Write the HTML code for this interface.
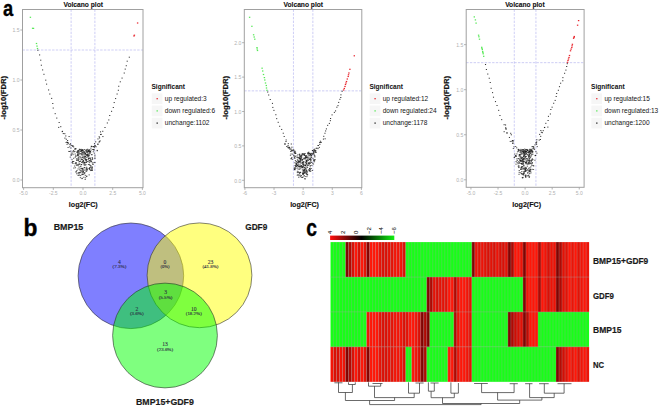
<!DOCTYPE html>
<html><head><meta charset="utf-8"><style>
html,body{margin:0;padding:0;background:#fff;}
svg{display:block;}
</style></head><body>
<svg width="660" height="407" viewBox="0 0 660 407">
<rect width="660" height="407" fill="#fff"/>
<text x="83.20" y="7.40" font-family="Liberation Sans" font-size="7.3" font-weight="bold" text-anchor="middle" fill="#111" textLength="39.5" lengthAdjust="spacingAndGlyphs" stroke="#111" stroke-width="0.12">Volcano plot</text>
<g stroke="#9c9cea" stroke-width="0.5" stroke-dasharray="2.4,1.3"><line x1="71.12" y1="9.5" x2="71.12" y2="187.7"/><line x1="94.88" y1="9.5" x2="94.88" y2="187.7"/><line x1="22.5" y1="50.00" x2="143.0" y2="50.00"/></g>
<rect x="22.5" y="9.5" width="120.50" height="178.20" fill="none" stroke="#a0a0a0" stroke-width="1"/>
<line x1="20.3" y1="180.00" x2="22.5" y2="180.00" stroke="#a0a0a0" stroke-width="0.8"/>
<text x="19.60" y="182.30" font-family="Liberation Sans" font-size="5.1" text-anchor="end" fill="#b0b0b0">0.0</text>
<line x1="20.3" y1="130.00" x2="22.5" y2="130.00" stroke="#a0a0a0" stroke-width="0.8"/>
<text x="19.60" y="132.30" font-family="Liberation Sans" font-size="5.1" text-anchor="end" fill="#b0b0b0">0.5</text>
<line x1="20.3" y1="80.00" x2="22.5" y2="80.00" stroke="#a0a0a0" stroke-width="0.8"/>
<text x="19.60" y="82.30" font-family="Liberation Sans" font-size="5.1" text-anchor="end" fill="#b0b0b0">1.0</text>
<line x1="20.3" y1="30.00" x2="22.5" y2="30.00" stroke="#a0a0a0" stroke-width="0.8"/>
<text x="19.60" y="32.30" font-family="Liberation Sans" font-size="5.1" text-anchor="end" fill="#b0b0b0">1.5</text>
<line x1="23.60" y1="187.7" x2="23.60" y2="189.89999999999998" stroke="#a0a0a0" stroke-width="0.8"/>
<text x="23.60" y="195.00" font-family="Liberation Sans" font-size="5" text-anchor="middle" fill="#b0b0b0">-5.0</text>
<line x1="53.30" y1="187.7" x2="53.30" y2="189.89999999999998" stroke="#a0a0a0" stroke-width="0.8"/>
<text x="53.30" y="195.00" font-family="Liberation Sans" font-size="5" text-anchor="middle" fill="#b0b0b0">-2.5</text>
<line x1="83.00" y1="187.7" x2="83.00" y2="189.89999999999998" stroke="#a0a0a0" stroke-width="0.8"/>
<text x="83.00" y="195.00" font-family="Liberation Sans" font-size="5" text-anchor="middle" fill="#b0b0b0">0.0</text>
<line x1="112.70" y1="187.7" x2="112.70" y2="189.89999999999998" stroke="#a0a0a0" stroke-width="0.8"/>
<text x="112.70" y="195.00" font-family="Liberation Sans" font-size="5" text-anchor="middle" fill="#b0b0b0">2.5</text>
<line x1="142.40" y1="187.7" x2="142.40" y2="189.89999999999998" stroke="#a0a0a0" stroke-width="0.8"/>
<text x="142.40" y="195.00" font-family="Liberation Sans" font-size="5" text-anchor="middle" fill="#b0b0b0">5.0</text>
<text x="83.25" y="207.20" font-family="Liberation Sans" font-size="7.4" font-weight="bold" text-anchor="middle" fill="#111" textLength="28.8" lengthAdjust="spacingAndGlyphs" stroke="#111" stroke-width="0.15">log2(FC)</text>
<text x="0" y="0" font-family="Liberation Sans" font-size="7.9" font-weight="bold" text-anchor="middle" fill="#111" stroke="#111" stroke-width="0.22" textLength="43.5" lengthAdjust="spacingAndGlyphs" transform="translate(6.30,97.7) rotate(-90)">-log10(FDR)</text>
<g fill="#1a1a1a">
<rect x="37.30" y="49.76" width="1.1" height="0.9"/>
<rect x="39.06" y="54.48" width="1.1" height="0.9"/>
<rect x="40.19" y="59.71" width="1.1" height="0.9"/>
<rect x="40.81" y="64.74" width="1.1" height="0.9"/>
<rect x="42.07" y="69.47" width="1.1" height="0.9"/>
<rect x="43.40" y="73.82" width="1.1" height="0.9"/>
<rect x="45.19" y="79.68" width="1.1" height="0.9"/>
<rect x="46.05" y="83.66" width="1.1" height="0.9"/>
<rect x="48.04" y="89.50" width="1.1" height="0.9"/>
<rect x="49.26" y="93.56" width="1.1" height="0.9"/>
<rect x="51.11" y="97.90" width="1.1" height="0.9"/>
<rect x="52.23" y="103.07" width="1.1" height="0.9"/>
<rect x="52.68" y="107.60" width="1.1" height="0.9"/>
<rect x="54.65" y="113.26" width="1.1" height="0.9"/>
<rect x="56.22" y="117.62" width="1.1" height="0.9"/>
<rect x="58.60" y="122.01" width="1.1" height="0.9"/>
<rect x="60.21" y="126.26" width="1.1" height="0.9"/>
<rect x="61.93" y="130.84" width="1.1" height="0.9"/>
<rect x="65.24" y="135.51" width="1.1" height="0.9"/>
<rect x="67.08" y="140.14" width="1.1" height="0.9"/>
<rect x="69.38" y="144.27" width="1.1" height="0.9"/>
<rect x="128.76" y="56.73" width="1.1" height="0.9"/>
<rect x="126.66" y="60.72" width="1.1" height="0.9"/>
<rect x="125.72" y="65.31" width="1.1" height="0.9"/>
<rect x="124.68" y="68.65" width="1.1" height="0.9"/>
<rect x="123.69" y="72.58" width="1.1" height="0.9"/>
<rect x="121.52" y="77.62" width="1.1" height="0.9"/>
<rect x="119.74" y="81.38" width="1.1" height="0.9"/>
<rect x="118.18" y="85.78" width="1.1" height="0.9"/>
<rect x="117.80" y="89.79" width="1.1" height="0.9"/>
<rect x="116.55" y="93.57" width="1.1" height="0.9"/>
<rect x="115.06" y="98.15" width="1.1" height="0.9"/>
<rect x="113.65" y="102.15" width="1.1" height="0.9"/>
<rect x="112.77" y="107.03" width="1.1" height="0.9"/>
<rect x="111.02" y="110.83" width="1.1" height="0.9"/>
<rect x="109.18" y="115.07" width="1.1" height="0.9"/>
<rect x="108.27" y="119.49" width="1.1" height="0.9"/>
<rect x="106.79" y="122.52" width="1.1" height="0.9"/>
<rect x="104.45" y="127.07" width="1.1" height="0.9"/>
<rect x="102.21" y="130.80" width="1.1" height="0.9"/>
<rect x="100.10" y="134.00" width="1.1" height="0.9"/>
<rect x="97.44" y="138.50" width="1.1" height="0.9"/>
<rect x="95.13" y="141.41" width="1.1" height="0.9"/>
<rect x="93.30" y="146.07" width="1.1" height="0.9"/>
<rect x="58.15" y="126.90" width="1.1" height="0.9"/>
<rect x="61.70" y="131.21" width="1.1" height="0.9"/>
<rect x="64.25" y="133.27" width="1.1" height="0.9"/>
<rect x="62.75" y="133.17" width="1.1" height="0.9"/>
<rect x="64.36" y="137.66" width="1.1" height="0.9"/>
<rect x="68.56" y="136.14" width="1.1" height="0.9"/>
<rect x="65.75" y="138.75" width="1.1" height="0.9"/>
<rect x="67.08" y="142.24" width="1.1" height="0.9"/>
<rect x="69.90" y="143.36" width="1.1" height="0.9"/>
<rect x="99.97" y="131.44" width="1.1" height="0.9"/>
<rect x="100.62" y="133.86" width="1.1" height="0.9"/>
<rect x="102.36" y="136.16" width="1.1" height="0.9"/>
<rect x="99.00" y="137.48" width="1.1" height="0.9"/>
<rect x="98.62" y="136.34" width="1.1" height="0.9"/>
<rect x="98.56" y="141.65" width="1.1" height="0.9"/>
<rect x="97.38" y="143.49" width="1.1" height="0.9"/>
<rect x="93.94" y="143.27" width="1.1" height="0.9"/>
<rect x="91.47" y="146.22" width="1.1" height="0.9"/>
</g><g fill="#1a1a1a" fill-opacity="0.85">
<rect x="84.82" y="153.14" width="1.3" height="0.8"/>
<rect x="85.76" y="150.74" width="1.3" height="0.8"/>
<rect x="86.44" y="150.84" width="1.3" height="0.8"/>
<rect x="81.29" y="173.83" width="1.3" height="0.8"/>
<rect x="79.29" y="153.67" width="1.3" height="0.8"/>
<rect x="78.44" y="151.84" width="1.3" height="0.8"/>
<rect x="95.49" y="146.40" width="1.3" height="0.8"/>
<rect x="79.34" y="150.93" width="1.3" height="0.8"/>
<rect x="79.27" y="171.88" width="1.3" height="0.8"/>
<rect x="83.17" y="176.78" width="1.3" height="0.8"/>
<rect x="78.39" y="161.54" width="1.3" height="0.8"/>
<rect x="90.99" y="169.83" width="1.3" height="0.8"/>
<rect x="89.56" y="151.20" width="1.3" height="0.8"/>
<rect x="79.46" y="169.81" width="1.3" height="0.8"/>
<rect x="70.18" y="147.66" width="1.3" height="0.8"/>
<rect x="84.55" y="178.97" width="1.3" height="0.8"/>
<rect x="90.13" y="165.08" width="1.3" height="0.8"/>
<rect x="82.02" y="160.94" width="1.3" height="0.8"/>
<rect x="81.28" y="149.98" width="1.3" height="0.8"/>
<rect x="81.33" y="167.80" width="1.3" height="0.8"/>
<rect x="89.85" y="170.23" width="1.3" height="0.8"/>
<rect x="88.75" y="151.86" width="1.3" height="0.8"/>
<rect x="83.04" y="153.52" width="1.3" height="0.8"/>
<rect x="71.43" y="159.38" width="1.3" height="0.8"/>
<rect x="72.03" y="161.09" width="1.3" height="0.8"/>
<rect x="91.40" y="167.29" width="1.3" height="0.8"/>
<rect x="84.75" y="158.79" width="1.3" height="0.8"/>
<rect x="87.83" y="156.57" width="1.3" height="0.8"/>
<rect x="88.34" y="154.37" width="1.3" height="0.8"/>
<rect x="68.25" y="150.94" width="1.3" height="0.8"/>
<rect x="84.15" y="152.20" width="1.3" height="0.8"/>
<rect x="93.06" y="146.03" width="1.3" height="0.8"/>
<rect x="91.62" y="157.23" width="1.3" height="0.8"/>
<rect x="77.03" y="152.01" width="1.3" height="0.8"/>
<rect x="93.75" y="152.76" width="1.3" height="0.8"/>
<rect x="89.32" y="168.82" width="1.3" height="0.8"/>
<rect x="84.62" y="153.54" width="1.3" height="0.8"/>
<rect x="80.94" y="164.18" width="1.3" height="0.8"/>
<rect x="81.91" y="152.30" width="1.3" height="0.8"/>
<rect x="87.99" y="157.95" width="1.3" height="0.8"/>
<rect x="68.94" y="146.48" width="1.3" height="0.8"/>
<rect x="89.69" y="158.09" width="1.3" height="0.8"/>
<rect x="80.98" y="159.09" width="1.3" height="0.8"/>
<rect x="82.61" y="171.09" width="1.3" height="0.8"/>
<rect x="86.15" y="168.25" width="1.3" height="0.8"/>
<rect x="76.39" y="159.44" width="1.3" height="0.8"/>
<rect x="70.58" y="144.92" width="1.3" height="0.8"/>
<rect x="77.33" y="154.05" width="1.3" height="0.8"/>
<rect x="83.54" y="161.90" width="1.3" height="0.8"/>
<rect x="83.34" y="157.47" width="1.3" height="0.8"/>
<rect x="75.90" y="158.39" width="1.3" height="0.8"/>
<rect x="79.59" y="160.86" width="1.3" height="0.8"/>
<rect x="65.48" y="142.05" width="1.3" height="0.8"/>
<rect x="94.54" y="145.56" width="1.3" height="0.8"/>
<rect x="66.41" y="143.87" width="1.3" height="0.8"/>
<rect x="84.72" y="159.36" width="1.3" height="0.8"/>
<rect x="87.11" y="150.64" width="1.3" height="0.8"/>
<rect x="76.28" y="170.03" width="1.3" height="0.8"/>
<rect x="88.76" y="164.35" width="1.3" height="0.8"/>
<rect x="91.57" y="169.36" width="1.3" height="0.8"/>
<rect x="85.70" y="159.58" width="1.3" height="0.8"/>
<rect x="67.74" y="143.34" width="1.3" height="0.8"/>
<rect x="74.53" y="153.64" width="1.3" height="0.8"/>
<rect x="84.44" y="168.66" width="1.3" height="0.8"/>
<rect x="91.37" y="154.34" width="1.3" height="0.8"/>
<rect x="88.73" y="162.34" width="1.3" height="0.8"/>
<rect x="79.75" y="177.32" width="1.3" height="0.8"/>
<rect x="86.91" y="148.80" width="1.3" height="0.8"/>
<rect x="82.15" y="170.52" width="1.3" height="0.8"/>
<rect x="81.87" y="159.07" width="1.3" height="0.8"/>
<rect x="93.57" y="147.21" width="1.3" height="0.8"/>
<rect x="91.83" y="158.13" width="1.3" height="0.8"/>
<rect x="81.40" y="149.88" width="1.3" height="0.8"/>
<rect x="79.50" y="149.63" width="1.3" height="0.8"/>
<rect x="91.74" y="162.47" width="1.3" height="0.8"/>
<rect x="94.53" y="145.45" width="1.3" height="0.8"/>
<rect x="87.47" y="155.05" width="1.3" height="0.8"/>
<rect x="66.91" y="142.15" width="1.3" height="0.8"/>
<rect x="88.37" y="153.41" width="1.3" height="0.8"/>
<rect x="85.63" y="150.40" width="1.3" height="0.8"/>
<rect x="84.20" y="156.03" width="1.3" height="0.8"/>
<rect x="82.70" y="160.31" width="1.3" height="0.8"/>
<rect x="85.24" y="150.39" width="1.3" height="0.8"/>
<rect x="82.35" y="168.81" width="1.3" height="0.8"/>
<rect x="77.95" y="159.33" width="1.3" height="0.8"/>
<rect x="85.46" y="170.84" width="1.3" height="0.8"/>
<rect x="74.74" y="167.40" width="1.3" height="0.8"/>
<rect x="75.70" y="164.43" width="1.3" height="0.8"/>
<rect x="88.86" y="168.46" width="1.3" height="0.8"/>
<rect x="79.62" y="156.83" width="1.3" height="0.8"/>
<rect x="80.97" y="151.65" width="1.3" height="0.8"/>
<rect x="92.96" y="149.19" width="1.3" height="0.8"/>
<rect x="83.91" y="172.66" width="1.3" height="0.8"/>
<rect x="89.67" y="151.61" width="1.3" height="0.8"/>
<rect x="82.64" y="160.41" width="1.3" height="0.8"/>
<rect x="86.61" y="154.81" width="1.3" height="0.8"/>
<rect x="91.95" y="148.98" width="1.3" height="0.8"/>
<rect x="88.36" y="155.26" width="1.3" height="0.8"/>
<rect x="89.36" y="157.41" width="1.3" height="0.8"/>
<rect x="77.56" y="160.19" width="1.3" height="0.8"/>
<rect x="87.95" y="150.32" width="1.3" height="0.8"/>
<rect x="80.67" y="149.91" width="1.3" height="0.8"/>
<rect x="80.61" y="164.08" width="1.3" height="0.8"/>
<rect x="70.64" y="154.38" width="1.3" height="0.8"/>
<rect x="79.23" y="155.84" width="1.3" height="0.8"/>
<rect x="72.83" y="150.03" width="1.3" height="0.8"/>
<rect x="80.69" y="148.89" width="1.3" height="0.8"/>
<rect x="90.05" y="159.28" width="1.3" height="0.8"/>
<rect x="81.03" y="150.16" width="1.3" height="0.8"/>
<rect x="73.97" y="165.61" width="1.3" height="0.8"/>
<rect x="86.86" y="161.22" width="1.3" height="0.8"/>
<rect x="90.82" y="160.72" width="1.3" height="0.8"/>
<rect x="82.58" y="151.70" width="1.3" height="0.8"/>
<rect x="80.19" y="172.28" width="1.3" height="0.8"/>
<rect x="72.97" y="157.83" width="1.3" height="0.8"/>
<rect x="78.85" y="148.77" width="1.3" height="0.8"/>
<rect x="85.86" y="159.30" width="1.3" height="0.8"/>
<rect x="72.11" y="146.00" width="1.3" height="0.8"/>
<rect x="81.90" y="149.86" width="1.3" height="0.8"/>
<rect x="81.22" y="154.29" width="1.3" height="0.8"/>
<rect x="81.10" y="158.55" width="1.3" height="0.8"/>
<rect x="76.31" y="165.04" width="1.3" height="0.8"/>
<rect x="83.40" y="164.40" width="1.3" height="0.8"/>
<rect x="85.92" y="154.17" width="1.3" height="0.8"/>
<rect x="82.09" y="162.42" width="1.3" height="0.8"/>
<rect x="84.87" y="154.43" width="1.3" height="0.8"/>
<rect x="77.18" y="164.00" width="1.3" height="0.8"/>
<rect x="80.16" y="160.66" width="1.3" height="0.8"/>
<rect x="78.84" y="173.53" width="1.3" height="0.8"/>
<rect x="88.55" y="174.51" width="1.3" height="0.8"/>
<rect x="90.23" y="166.23" width="1.3" height="0.8"/>
<rect x="90.01" y="151.70" width="1.3" height="0.8"/>
<rect x="86.66" y="154.78" width="1.3" height="0.8"/>
<rect x="78.90" y="161.00" width="1.3" height="0.8"/>
<rect x="86.00" y="170.63" width="1.3" height="0.8"/>
<rect x="67.45" y="147.08" width="1.3" height="0.8"/>
<rect x="84.13" y="162.13" width="1.3" height="0.8"/>
<rect x="82.95" y="160.72" width="1.3" height="0.8"/>
<rect x="76.58" y="151.21" width="1.3" height="0.8"/>
<rect x="78.88" y="172.14" width="1.3" height="0.8"/>
<rect x="94.27" y="158.00" width="1.3" height="0.8"/>
<rect x="94.25" y="156.60" width="1.3" height="0.8"/>
<rect x="87.17" y="156.23" width="1.3" height="0.8"/>
<rect x="72.01" y="152.68" width="1.3" height="0.8"/>
<rect x="77.19" y="150.32" width="1.3" height="0.8"/>
<rect x="93.24" y="149.73" width="1.3" height="0.8"/>
<rect x="87.33" y="153.79" width="1.3" height="0.8"/>
<rect x="77.72" y="156.66" width="1.3" height="0.8"/>
<rect x="96.64" y="149.90" width="1.3" height="0.8"/>
<rect x="71.59" y="162.24" width="1.3" height="0.8"/>
<rect x="71.49" y="145.20" width="1.3" height="0.8"/>
<rect x="81.48" y="168.44" width="1.3" height="0.8"/>
<rect x="78.74" y="149.55" width="1.3" height="0.8"/>
<rect x="85.69" y="159.53" width="1.3" height="0.8"/>
<rect x="79.01" y="168.69" width="1.3" height="0.8"/>
<rect x="87.84" y="164.08" width="1.3" height="0.8"/>
<rect x="79.48" y="158.59" width="1.3" height="0.8"/>
<rect x="84.46" y="153.44" width="1.3" height="0.8"/>
<rect x="89.31" y="150.99" width="1.3" height="0.8"/>
<rect x="90.25" y="147.73" width="1.3" height="0.8"/>
<rect x="83.45" y="156.71" width="1.3" height="0.8"/>
<rect x="86.79" y="154.26" width="1.3" height="0.8"/>
<rect x="68.82" y="151.09" width="1.3" height="0.8"/>
<rect x="76.04" y="159.92" width="1.3" height="0.8"/>
<rect x="77.70" y="150.74" width="1.3" height="0.8"/>
<rect x="79.13" y="153.37" width="1.3" height="0.8"/>
<rect x="72.27" y="163.12" width="1.3" height="0.8"/>
<rect x="83.56" y="154.62" width="1.3" height="0.8"/>
<rect x="76.07" y="173.41" width="1.3" height="0.8"/>
<rect x="90.79" y="145.92" width="1.3" height="0.8"/>
<rect x="93.36" y="161.98" width="1.3" height="0.8"/>
<rect x="72.97" y="146.56" width="1.3" height="0.8"/>
<rect x="69.65" y="156.67" width="1.3" height="0.8"/>
<rect x="94.13" y="145.53" width="1.3" height="0.8"/>
<rect x="85.56" y="161.53" width="1.3" height="0.8"/>
<rect x="75.30" y="162.62" width="1.3" height="0.8"/>
<rect x="75.04" y="155.54" width="1.3" height="0.8"/>
<rect x="80.42" y="170.08" width="1.3" height="0.8"/>
<rect x="84.11" y="167.27" width="1.3" height="0.8"/>
<rect x="81.11" y="154.48" width="1.3" height="0.8"/>
<rect x="75.09" y="148.38" width="1.3" height="0.8"/>
<rect x="90.23" y="159.69" width="1.3" height="0.8"/>
<rect x="78.47" y="163.79" width="1.3" height="0.8"/>
<rect x="88.39" y="158.08" width="1.3" height="0.8"/>
<rect x="92.29" y="163.72" width="1.3" height="0.8"/>
<rect x="77.18" y="153.67" width="1.3" height="0.8"/>
<rect x="93.18" y="148.96" width="1.3" height="0.8"/>
<rect x="90.67" y="161.31" width="1.3" height="0.8"/>
<rect x="77.52" y="165.32" width="1.3" height="0.8"/>
<rect x="86.92" y="149.62" width="1.3" height="0.8"/>
<rect x="78.43" y="166.69" width="1.3" height="0.8"/>
<rect x="86.44" y="169.11" width="1.3" height="0.8"/>
<rect x="77.51" y="175.12" width="1.3" height="0.8"/>
<rect x="77.34" y="154.63" width="1.3" height="0.8"/>
<rect x="84.51" y="156.42" width="1.3" height="0.8"/>
<rect x="90.34" y="149.70" width="1.3" height="0.8"/>
<rect x="83.59" y="167.06" width="1.3" height="0.8"/>
<rect x="86.17" y="157.27" width="1.3" height="0.8"/>
<rect x="86.81" y="153.64" width="1.3" height="0.8"/>
<rect x="84.74" y="157.75" width="1.3" height="0.8"/>
<rect x="94.25" y="154.78" width="1.3" height="0.8"/>
<rect x="98.91" y="141.25" width="1.3" height="0.8"/>
<rect x="88.96" y="167.41" width="1.3" height="0.8"/>
<rect x="92.70" y="151.42" width="1.3" height="0.8"/>
<rect x="77.84" y="152.56" width="1.3" height="0.8"/>
<rect x="88.14" y="155.49" width="1.3" height="0.8"/>
<rect x="85.88" y="175.89" width="1.3" height="0.8"/>
<rect x="84.13" y="172.32" width="1.3" height="0.8"/>
<rect x="85.68" y="149.31" width="1.3" height="0.8"/>
<rect x="75.54" y="171.11" width="1.3" height="0.8"/>
<rect x="84.73" y="174.86" width="1.3" height="0.8"/>
<rect x="89.57" y="167.05" width="1.3" height="0.8"/>
<rect x="82.57" y="149.68" width="1.3" height="0.8"/>
<rect x="97.20" y="144.20" width="1.3" height="0.8"/>
<rect x="82.09" y="154.62" width="1.3" height="0.8"/>
<rect x="79.84" y="166.37" width="1.3" height="0.8"/>
<rect x="81.48" y="156.99" width="1.3" height="0.8"/>
<rect x="82.25" y="169.53" width="1.3" height="0.8"/>
<rect x="91.12" y="167.72" width="1.3" height="0.8"/>
<rect x="87.51" y="159.32" width="1.3" height="0.8"/>
<rect x="99.44" y="140.45" width="1.3" height="0.8"/>
<rect x="82.30" y="161.62" width="1.3" height="0.8"/>
<rect x="86.44" y="169.67" width="1.3" height="0.8"/>
<rect x="81.39" y="168.53" width="1.3" height="0.8"/>
<rect x="77.37" y="154.83" width="1.3" height="0.8"/>
<rect x="74.28" y="149.24" width="1.3" height="0.8"/>
<rect x="86.24" y="155.03" width="1.3" height="0.8"/>
<rect x="84.07" y="162.57" width="1.3" height="0.8"/>
<rect x="73.17" y="167.65" width="1.3" height="0.8"/>
<rect x="87.94" y="150.17" width="1.3" height="0.8"/>
<rect x="89.25" y="164.72" width="1.3" height="0.8"/>
<rect x="77.41" y="157.93" width="1.3" height="0.8"/>
<rect x="74.56" y="163.28" width="1.3" height="0.8"/>
<rect x="88.40" y="149.48" width="1.3" height="0.8"/>
<rect x="85.57" y="162.03" width="1.3" height="0.8"/>
<rect x="74.18" y="150.97" width="1.3" height="0.8"/>
<rect x="82.44" y="152.51" width="1.3" height="0.8"/>
<rect x="89.37" y="153.05" width="1.3" height="0.8"/>
<rect x="73.45" y="151.46" width="1.3" height="0.8"/>
<rect x="86.09" y="175.76" width="1.3" height="0.8"/>
<rect x="88.84" y="168.68" width="1.3" height="0.8"/>
<rect x="90.89" y="145.84" width="1.3" height="0.8"/>
<rect x="81.37" y="153.05" width="1.3" height="0.8"/>
<rect x="91.67" y="166.55" width="1.3" height="0.8"/>
<rect x="72.39" y="154.32" width="1.3" height="0.8"/>
<rect x="81.58" y="177.82" width="1.3" height="0.8"/>
<rect x="89.93" y="161.35" width="1.3" height="0.8"/>
<rect x="83.73" y="152.40" width="1.3" height="0.8"/>
<rect x="83.91" y="164.60" width="1.3" height="0.8"/>
<rect x="79.56" y="149.23" width="1.3" height="0.8"/>
<rect x="77.33" y="153.38" width="1.3" height="0.8"/>
<rect x="80.51" y="171.13" width="1.3" height="0.8"/>
<rect x="79.88" y="150.81" width="1.3" height="0.8"/>
<rect x="75.20" y="162.40" width="1.3" height="0.8"/>
<rect x="85.94" y="166.82" width="1.3" height="0.8"/>
<rect x="77.43" y="155.35" width="1.3" height="0.8"/>
<rect x="88.27" y="160.88" width="1.3" height="0.8"/>
<rect x="77.72" y="172.28" width="1.3" height="0.8"/>
<rect x="89.15" y="151.19" width="1.3" height="0.8"/>
<rect x="81.69" y="149.09" width="1.3" height="0.8"/>
<rect x="88.47" y="168.16" width="1.3" height="0.8"/>
<rect x="70.04" y="150.74" width="1.3" height="0.8"/>
<rect x="83.00" y="162.69" width="1.3" height="0.8"/>
<rect x="72.40" y="145.41" width="1.3" height="0.8"/>
<rect x="77.40" y="159.59" width="1.3" height="0.8"/>
<rect x="85.90" y="161.62" width="1.3" height="0.8"/>
<rect x="85.41" y="160.15" width="1.3" height="0.8"/>
<rect x="88.65" y="149.66" width="1.3" height="0.8"/>
<rect x="94.33" y="162.22" width="1.3" height="0.8"/>
<rect x="80.00" y="175.27" width="1.3" height="0.8"/>
<rect x="70.55" y="154.81" width="1.3" height="0.8"/>
<rect x="84.26" y="169.86" width="1.3" height="0.8"/>
<rect x="83.62" y="173.42" width="1.3" height="0.8"/>
<rect x="84.52" y="152.80" width="1.3" height="0.8"/>
<rect x="75.37" y="155.71" width="1.3" height="0.8"/>
<rect x="86.21" y="167.83" width="1.3" height="0.8"/>
<rect x="84.00" y="162.66" width="1.3" height="0.8"/>
<rect x="82.44" y="172.23" width="1.3" height="0.8"/>
<rect x="89.49" y="160.01" width="1.3" height="0.8"/>
<rect x="78.08" y="157.53" width="1.3" height="0.8"/>
<rect x="75.81" y="162.69" width="1.3" height="0.8"/>
<rect x="75.10" y="148.46" width="1.3" height="0.8"/>
<rect x="76.27" y="151.95" width="1.3" height="0.8"/>
<rect x="83.41" y="158.29" width="1.3" height="0.8"/>
<rect x="85.82" y="151.78" width="1.3" height="0.8"/>
<rect x="87.60" y="151.22" width="1.3" height="0.8"/>
<rect x="74.37" y="148.12" width="1.3" height="0.8"/>
<rect x="80.41" y="168.18" width="1.3" height="0.8"/>
<rect x="83.83" y="149.22" width="1.3" height="0.8"/>
<rect x="75.39" y="171.77" width="1.3" height="0.8"/>
<rect x="91.60" y="170.06" width="1.3" height="0.8"/>
<rect x="80.87" y="151.28" width="1.3" height="0.8"/>
<rect x="90.62" y="169.61" width="1.3" height="0.8"/>
<rect x="86.06" y="169.38" width="1.3" height="0.8"/>
<rect x="84.74" y="156.39" width="1.3" height="0.8"/>
<rect x="82.51" y="174.15" width="1.3" height="0.8"/>
<rect x="80.29" y="153.13" width="1.3" height="0.8"/>
<rect x="66.29" y="141.65" width="1.3" height="0.8"/>
<rect x="81.66" y="156.74" width="1.3" height="0.8"/>
<rect x="86.76" y="152.02" width="1.3" height="0.8"/>
<rect x="92.29" y="163.88" width="1.3" height="0.8"/>
<rect x="88.47" y="151.51" width="1.3" height="0.8"/>
<rect x="72.37" y="151.06" width="1.3" height="0.8"/>
<rect x="88.70" y="160.29" width="1.3" height="0.8"/>
<rect x="84.84" y="177.45" width="1.3" height="0.8"/>
<rect x="77.44" y="168.59" width="1.3" height="0.8"/>
<rect x="80.33" y="165.65" width="1.3" height="0.8"/>
<rect x="74.58" y="156.79" width="1.3" height="0.8"/>
<rect x="87.59" y="151.19" width="1.3" height="0.8"/>
<rect x="84.67" y="164.60" width="1.3" height="0.8"/>
<rect x="91.80" y="158.98" width="1.3" height="0.8"/>
<rect x="82.19" y="149.94" width="1.3" height="0.8"/>
<rect x="88.20" y="158.36" width="1.3" height="0.8"/>
<rect x="67.20" y="142.28" width="1.3" height="0.8"/>
<rect x="83.83" y="150.92" width="1.3" height="0.8"/>
<rect x="89.04" y="149.70" width="1.3" height="0.8"/>
<rect x="79.17" y="163.57" width="1.3" height="0.8"/>
<rect x="78.26" y="163.75" width="1.3" height="0.8"/>
<rect x="78.55" y="174.87" width="1.3" height="0.8"/>
<rect x="82.51" y="151.28" width="1.3" height="0.8"/>
<rect x="73.00" y="161.20" width="1.3" height="0.8"/>
<rect x="77.78" y="150.03" width="1.3" height="0.8"/>
<rect x="76.71" y="154.78" width="1.3" height="0.8"/>
<rect x="77.63" y="173.41" width="1.3" height="0.8"/>
<rect x="81.79" y="174.26" width="1.3" height="0.8"/>
<rect x="90.82" y="154.34" width="1.3" height="0.8"/>
<rect x="82.54" y="170.57" width="1.3" height="0.8"/>
<rect x="91.37" y="167.78" width="1.3" height="0.8"/>
<rect x="85.34" y="164.37" width="1.3" height="0.8"/>
<rect x="72.12" y="161.43" width="1.3" height="0.8"/>
<rect x="85.16" y="155.77" width="1.3" height="0.8"/>
<rect x="96.66" y="150.41" width="1.3" height="0.8"/>
<rect x="82.18" y="172.59" width="1.3" height="0.8"/>
<rect x="82.11" y="168.08" width="1.3" height="0.8"/>
<rect x="77.46" y="151.04" width="1.3" height="0.8"/>
<rect x="82.57" y="156.46" width="1.3" height="0.8"/>
<rect x="82.33" y="171.48" width="1.3" height="0.8"/>
<rect x="81.01" y="161.97" width="1.3" height="0.8"/>
<rect x="70.75" y="152.71" width="1.3" height="0.8"/>
<rect x="81.37" y="178.29" width="1.3" height="0.8"/>
</g>
<g fill="#55e855">
<rect x="29.70" y="16.70" width="1.4" height="1.2"/>
<rect x="31.90" y="27.70" width="1.4" height="1.2"/>
<rect x="32.80" y="27.80" width="1.4" height="1.2"/>
<rect x="35.80" y="42.90" width="1.4" height="1.2"/>
<rect x="36.30" y="45.50" width="1.4" height="1.2"/>
<rect x="36.80" y="47.90" width="1.4" height="1.2"/>
</g><g fill="#e8242c">
<rect x="136.90" y="22.40" width="1.4" height="1.2"/>
<rect x="133.30" y="35.40" width="1.4" height="1.2"/>
<rect x="133.70" y="34.60" width="1.4" height="1.2"/>
</g>
<text x="151.50" y="89.20" font-family="Liberation Sans" font-size="7.0" font-weight="bold" fill="#111" textLength="33.5" lengthAdjust="spacingAndGlyphs">Significant</text>
<rect x="151.80" y="93.40" width="10.6" height="10.6" fill="#f6f6f6"/>
<rect x="156.50" y="98.10" width="1.4" height="1.2" fill="#e8242c"/>
<text x="164.80" y="101.00" font-family="Liberation Sans" font-size="6.55" fill="#151515">up regulated:3</text>
<rect x="151.80" y="105.60" width="10.6" height="10.6" fill="#f6f6f6"/>
<rect x="156.50" y="110.30" width="1.4" height="1.2" fill="#55e855"/>
<text x="164.80" y="113.20" font-family="Liberation Sans" font-size="6.55" fill="#151515">down regulated:6</text>
<rect x="151.80" y="117.80" width="10.6" height="10.6" fill="#f6f6f6"/>
<rect x="156.50" y="122.50" width="1.4" height="1.2" fill="#222"/>
<text x="164.80" y="125.40" font-family="Liberation Sans" font-size="6.55" fill="#151515">unchange:1102</text>
<text x="303.30" y="7.40" font-family="Liberation Sans" font-size="7.3" font-weight="bold" text-anchor="middle" fill="#111" textLength="39.5" lengthAdjust="spacingAndGlyphs" stroke="#111" stroke-width="0.12">Volcano plot</text>
<g stroke="#9c9cea" stroke-width="0.5" stroke-dasharray="2.4,1.3"><line x1="293.44" y1="9.5" x2="293.44" y2="187.7"/><line x1="312.86" y1="9.5" x2="312.86" y2="187.7"/><line x1="244.3" y1="90.86" x2="361.8" y2="90.86"/></g>
<rect x="244.3" y="9.5" width="117.50" height="178.20" fill="none" stroke="#a0a0a0" stroke-width="1"/>
<line x1="242.10000000000002" y1="180.30" x2="244.3" y2="180.30" stroke="#a0a0a0" stroke-width="0.8"/>
<text x="241.40" y="182.60" font-family="Liberation Sans" font-size="5.1" text-anchor="end" fill="#b0b0b0">0.0</text>
<line x1="242.10000000000002" y1="145.90" x2="244.3" y2="145.90" stroke="#a0a0a0" stroke-width="0.8"/>
<text x="241.40" y="148.20" font-family="Liberation Sans" font-size="5.1" text-anchor="end" fill="#b0b0b0">0.5</text>
<line x1="242.10000000000002" y1="111.50" x2="244.3" y2="111.50" stroke="#a0a0a0" stroke-width="0.8"/>
<text x="241.40" y="113.80" font-family="Liberation Sans" font-size="5.1" text-anchor="end" fill="#b0b0b0">1.0</text>
<line x1="242.10000000000002" y1="77.10" x2="244.3" y2="77.10" stroke="#a0a0a0" stroke-width="0.8"/>
<text x="241.40" y="79.40" font-family="Liberation Sans" font-size="5.1" text-anchor="end" fill="#b0b0b0">1.5</text>
<line x1="242.10000000000002" y1="42.70" x2="244.3" y2="42.70" stroke="#a0a0a0" stroke-width="0.8"/>
<text x="241.40" y="45.00" font-family="Liberation Sans" font-size="5.1" text-anchor="end" fill="#b0b0b0">2.0</text>
<line x1="244.89" y1="187.7" x2="244.89" y2="189.89999999999998" stroke="#a0a0a0" stroke-width="0.8"/>
<text x="244.89" y="195.00" font-family="Liberation Sans" font-size="5" text-anchor="middle" fill="#b0b0b0">-6</text>
<line x1="274.02" y1="187.7" x2="274.02" y2="189.89999999999998" stroke="#a0a0a0" stroke-width="0.8"/>
<text x="274.02" y="195.00" font-family="Liberation Sans" font-size="5" text-anchor="middle" fill="#b0b0b0">-3</text>
<line x1="303.15" y1="187.7" x2="303.15" y2="189.89999999999998" stroke="#a0a0a0" stroke-width="0.8"/>
<text x="303.15" y="195.00" font-family="Liberation Sans" font-size="5" text-anchor="middle" fill="#b0b0b0">0</text>
<line x1="332.28" y1="187.7" x2="332.28" y2="189.89999999999998" stroke="#a0a0a0" stroke-width="0.8"/>
<text x="332.28" y="195.00" font-family="Liberation Sans" font-size="5" text-anchor="middle" fill="#b0b0b0">3</text>
<line x1="361.41" y1="187.7" x2="361.41" y2="189.89999999999998" stroke="#a0a0a0" stroke-width="0.8"/>
<text x="361.41" y="195.00" font-family="Liberation Sans" font-size="5" text-anchor="middle" fill="#b0b0b0">6</text>
<text x="304.55" y="207.20" font-family="Liberation Sans" font-size="7.4" font-weight="bold" text-anchor="middle" fill="#111" textLength="28.8" lengthAdjust="spacingAndGlyphs" stroke="#111" stroke-width="0.15">log2(FC)</text>
<text x="0" y="0" font-family="Liberation Sans" font-size="7.9" font-weight="bold" text-anchor="middle" fill="#111" stroke="#111" stroke-width="0.22" textLength="43.5" lengthAdjust="spacingAndGlyphs" transform="translate(228.10,97.7) rotate(-90)">-log10(FDR)</text>
<g fill="#1a1a1a">
<rect x="267.15" y="91.58" width="1.1" height="0.9"/>
<rect x="268.12" y="94.55" width="1.1" height="0.9"/>
<rect x="269.68" y="99.05" width="1.1" height="0.9"/>
<rect x="271.92" y="102.89" width="1.1" height="0.9"/>
<rect x="272.27" y="106.92" width="1.1" height="0.9"/>
<rect x="273.39" y="109.89" width="1.1" height="0.9"/>
<rect x="275.31" y="114.31" width="1.1" height="0.9"/>
<rect x="276.13" y="118.23" width="1.1" height="0.9"/>
<rect x="277.65" y="121.83" width="1.1" height="0.9"/>
<rect x="279.14" y="125.79" width="1.1" height="0.9"/>
<rect x="281.13" y="128.94" width="1.1" height="0.9"/>
<rect x="282.70" y="132.75" width="1.1" height="0.9"/>
<rect x="283.64" y="135.98" width="1.1" height="0.9"/>
<rect x="285.60" y="139.52" width="1.1" height="0.9"/>
<rect x="287.75" y="143.24" width="1.1" height="0.9"/>
<rect x="288.48" y="146.69" width="1.1" height="0.9"/>
<rect x="292.05" y="150.33" width="1.1" height="0.9"/>
<rect x="341.55" y="90.79" width="1.1" height="0.9"/>
<rect x="340.40" y="94.38" width="1.1" height="0.9"/>
<rect x="340.22" y="97.05" width="1.1" height="0.9"/>
<rect x="339.35" y="98.83" width="1.1" height="0.9"/>
<rect x="338.13" y="101.91" width="1.1" height="0.9"/>
<rect x="337.44" y="105.22" width="1.1" height="0.9"/>
<rect x="336.31" y="106.73" width="1.1" height="0.9"/>
<rect x="335.00" y="110.46" width="1.1" height="0.9"/>
<rect x="333.83" y="111.88" width="1.1" height="0.9"/>
<rect x="331.52" y="114.44" width="1.1" height="0.9"/>
<rect x="330.01" y="118.01" width="1.1" height="0.9"/>
<rect x="329.82" y="120.26" width="1.1" height="0.9"/>
<rect x="328.82" y="122.92" width="1.1" height="0.9"/>
<rect x="327.10" y="124.85" width="1.1" height="0.9"/>
<rect x="325.87" y="128.45" width="1.1" height="0.9"/>
<rect x="325.06" y="130.52" width="1.1" height="0.9"/>
<rect x="324.40" y="132.78" width="1.1" height="0.9"/>
<rect x="323.20" y="135.83" width="1.1" height="0.9"/>
<rect x="322.88" y="138.63" width="1.1" height="0.9"/>
<rect x="320.76" y="141.82" width="1.1" height="0.9"/>
<rect x="319.27" y="143.91" width="1.1" height="0.9"/>
<rect x="317.68" y="145.01" width="1.1" height="0.9"/>
<rect x="315.66" y="147.84" width="1.1" height="0.9"/>
<rect x="314.50" y="150.03" width="1.1" height="0.9"/>
<rect x="312.74" y="152.60" width="1.1" height="0.9"/>
<rect x="284.43" y="142.96" width="1.1" height="0.9"/>
<rect x="284.43" y="143.97" width="1.1" height="0.9"/>
<rect x="285.45" y="141.10" width="1.1" height="0.9"/>
<rect x="286.23" y="146.13" width="1.1" height="0.9"/>
<rect x="290.73" y="143.56" width="1.1" height="0.9"/>
<rect x="289.05" y="147.13" width="1.1" height="0.9"/>
<rect x="291.36" y="146.72" width="1.1" height="0.9"/>
<rect x="290.64" y="148.66" width="1.1" height="0.9"/>
<rect x="293.11" y="149.35" width="1.1" height="0.9"/>
<rect x="324.57" y="138.37" width="1.1" height="0.9"/>
<rect x="319.66" y="142.07" width="1.1" height="0.9"/>
<rect x="319.82" y="140.74" width="1.1" height="0.9"/>
<rect x="319.25" y="142.21" width="1.1" height="0.9"/>
<rect x="318.74" y="146.91" width="1.1" height="0.9"/>
<rect x="317.49" y="148.20" width="1.1" height="0.9"/>
<rect x="314.13" y="148.73" width="1.1" height="0.9"/>
<rect x="313.12" y="152.84" width="1.1" height="0.9"/>
<rect x="310.38" y="154.49" width="1.1" height="0.9"/>
</g><g fill="#1a1a1a" fill-opacity="0.85">
<rect x="306.98" y="157.48" width="1.3" height="0.8"/>
<rect x="308.88" y="157.70" width="1.3" height="0.8"/>
<rect x="306.14" y="161.53" width="1.3" height="0.8"/>
<rect x="291.71" y="158.88" width="1.3" height="0.8"/>
<rect x="298.84" y="158.22" width="1.3" height="0.8"/>
<rect x="309.67" y="165.16" width="1.3" height="0.8"/>
<rect x="302.35" y="161.33" width="1.3" height="0.8"/>
<rect x="303.82" y="154.08" width="1.3" height="0.8"/>
<rect x="289.21" y="148.12" width="1.3" height="0.8"/>
<rect x="304.56" y="169.52" width="1.3" height="0.8"/>
<rect x="304.67" y="155.21" width="1.3" height="0.8"/>
<rect x="302.64" y="164.71" width="1.3" height="0.8"/>
<rect x="305.67" y="156.74" width="1.3" height="0.8"/>
<rect x="313.08" y="149.36" width="1.3" height="0.8"/>
<rect x="305.52" y="160.14" width="1.3" height="0.8"/>
<rect x="314.24" y="156.59" width="1.3" height="0.8"/>
<rect x="298.55" y="166.54" width="1.3" height="0.8"/>
<rect x="306.06" y="160.56" width="1.3" height="0.8"/>
<rect x="309.06" y="168.25" width="1.3" height="0.8"/>
<rect x="299.84" y="165.78" width="1.3" height="0.8"/>
<rect x="299.00" y="165.69" width="1.3" height="0.8"/>
<rect x="293.59" y="167.62" width="1.3" height="0.8"/>
<rect x="294.75" y="165.51" width="1.3" height="0.8"/>
<rect x="298.37" y="168.83" width="1.3" height="0.8"/>
<rect x="310.85" y="162.10" width="1.3" height="0.8"/>
<rect x="308.53" y="163.83" width="1.3" height="0.8"/>
<rect x="297.07" y="165.20" width="1.3" height="0.8"/>
<rect x="308.17" y="169.44" width="1.3" height="0.8"/>
<rect x="300.42" y="156.28" width="1.3" height="0.8"/>
<rect x="296.10" y="164.14" width="1.3" height="0.8"/>
<rect x="294.21" y="169.41" width="1.3" height="0.8"/>
<rect x="306.48" y="171.35" width="1.3" height="0.8"/>
<rect x="296.69" y="174.79" width="1.3" height="0.8"/>
<rect x="310.58" y="152.88" width="1.3" height="0.8"/>
<rect x="305.66" y="161.65" width="1.3" height="0.8"/>
<rect x="309.50" y="161.80" width="1.3" height="0.8"/>
<rect x="300.94" y="166.18" width="1.3" height="0.8"/>
<rect x="306.37" y="159.81" width="1.3" height="0.8"/>
<rect x="306.84" y="167.27" width="1.3" height="0.8"/>
<rect x="293.81" y="152.31" width="1.3" height="0.8"/>
<rect x="308.71" y="152.85" width="1.3" height="0.8"/>
<rect x="301.53" y="154.47" width="1.3" height="0.8"/>
<rect x="296.54" y="166.64" width="1.3" height="0.8"/>
<rect x="299.45" y="157.30" width="1.3" height="0.8"/>
<rect x="301.71" y="162.21" width="1.3" height="0.8"/>
<rect x="304.85" y="161.92" width="1.3" height="0.8"/>
<rect x="303.37" y="171.73" width="1.3" height="0.8"/>
<rect x="305.97" y="161.11" width="1.3" height="0.8"/>
<rect x="298.18" y="175.30" width="1.3" height="0.8"/>
<rect x="296.86" y="170.81" width="1.3" height="0.8"/>
<rect x="305.55" y="157.40" width="1.3" height="0.8"/>
<rect x="299.29" y="172.18" width="1.3" height="0.8"/>
<rect x="294.68" y="155.74" width="1.3" height="0.8"/>
<rect x="298.96" y="161.51" width="1.3" height="0.8"/>
<rect x="302.74" y="169.75" width="1.3" height="0.8"/>
<rect x="301.59" y="159.13" width="1.3" height="0.8"/>
<rect x="295.63" y="163.64" width="1.3" height="0.8"/>
<rect x="299.17" y="174.52" width="1.3" height="0.8"/>
<rect x="303.93" y="172.60" width="1.3" height="0.8"/>
<rect x="312.14" y="150.10" width="1.3" height="0.8"/>
<rect x="307.12" y="152.69" width="1.3" height="0.8"/>
<rect x="313.18" y="151.35" width="1.3" height="0.8"/>
<rect x="305.49" y="157.25" width="1.3" height="0.8"/>
<rect x="303.55" y="154.84" width="1.3" height="0.8"/>
<rect x="312.18" y="150.39" width="1.3" height="0.8"/>
<rect x="309.55" y="166.43" width="1.3" height="0.8"/>
<rect x="295.70" y="166.04" width="1.3" height="0.8"/>
<rect x="304.87" y="168.05" width="1.3" height="0.8"/>
<rect x="291.89" y="153.70" width="1.3" height="0.8"/>
<rect x="308.77" y="155.39" width="1.3" height="0.8"/>
<rect x="302.91" y="163.66" width="1.3" height="0.8"/>
<rect x="309.46" y="153.74" width="1.3" height="0.8"/>
<rect x="294.81" y="160.20" width="1.3" height="0.8"/>
<rect x="303.04" y="173.29" width="1.3" height="0.8"/>
<rect x="294.23" y="162.41" width="1.3" height="0.8"/>
<rect x="306.00" y="160.29" width="1.3" height="0.8"/>
<rect x="305.08" y="166.76" width="1.3" height="0.8"/>
<rect x="301.51" y="166.22" width="1.3" height="0.8"/>
<rect x="296.27" y="155.61" width="1.3" height="0.8"/>
<rect x="310.39" y="158.70" width="1.3" height="0.8"/>
<rect x="303.94" y="169.34" width="1.3" height="0.8"/>
<rect x="298.31" y="172.03" width="1.3" height="0.8"/>
<rect x="297.56" y="163.59" width="1.3" height="0.8"/>
<rect x="303.14" y="161.17" width="1.3" height="0.8"/>
<rect x="295.14" y="168.18" width="1.3" height="0.8"/>
<rect x="299.26" y="162.07" width="1.3" height="0.8"/>
<rect x="297.30" y="162.19" width="1.3" height="0.8"/>
<rect x="312.05" y="162.77" width="1.3" height="0.8"/>
<rect x="299.74" y="158.96" width="1.3" height="0.8"/>
<rect x="294.53" y="165.00" width="1.3" height="0.8"/>
<rect x="312.79" y="163.66" width="1.3" height="0.8"/>
<rect x="300.53" y="158.38" width="1.3" height="0.8"/>
<rect x="306.83" y="174.32" width="1.3" height="0.8"/>
<rect x="295.05" y="165.83" width="1.3" height="0.8"/>
<rect x="310.21" y="161.45" width="1.3" height="0.8"/>
<rect x="295.43" y="161.39" width="1.3" height="0.8"/>
<rect x="300.63" y="167.35" width="1.3" height="0.8"/>
<rect x="291.75" y="149.66" width="1.3" height="0.8"/>
<rect x="303.31" y="171.46" width="1.3" height="0.8"/>
<rect x="310.82" y="155.33" width="1.3" height="0.8"/>
<rect x="307.66" y="162.44" width="1.3" height="0.8"/>
<rect x="302.27" y="162.07" width="1.3" height="0.8"/>
<rect x="299.63" y="167.63" width="1.3" height="0.8"/>
<rect x="304.57" y="164.93" width="1.3" height="0.8"/>
<rect x="305.77" y="171.72" width="1.3" height="0.8"/>
<rect x="289.39" y="148.92" width="1.3" height="0.8"/>
<rect x="309.06" y="163.00" width="1.3" height="0.8"/>
<rect x="310.25" y="156.60" width="1.3" height="0.8"/>
<rect x="310.16" y="154.52" width="1.3" height="0.8"/>
<rect x="303.23" y="153.73" width="1.3" height="0.8"/>
<rect x="301.19" y="176.92" width="1.3" height="0.8"/>
<rect x="313.88" y="149.91" width="1.3" height="0.8"/>
<rect x="313.01" y="151.44" width="1.3" height="0.8"/>
<rect x="302.11" y="153.53" width="1.3" height="0.8"/>
<rect x="304.12" y="172.39" width="1.3" height="0.8"/>
<rect x="302.20" y="166.62" width="1.3" height="0.8"/>
<rect x="300.69" y="175.16" width="1.3" height="0.8"/>
<rect x="302.12" y="171.61" width="1.3" height="0.8"/>
<rect x="303.68" y="167.53" width="1.3" height="0.8"/>
<rect x="303.65" y="158.44" width="1.3" height="0.8"/>
<rect x="302.04" y="173.53" width="1.3" height="0.8"/>
<rect x="300.24" y="159.96" width="1.3" height="0.8"/>
<rect x="296.23" y="164.91" width="1.3" height="0.8"/>
<rect x="309.78" y="158.11" width="1.3" height="0.8"/>
<rect x="296.84" y="158.82" width="1.3" height="0.8"/>
<rect x="293.82" y="169.24" width="1.3" height="0.8"/>
<rect x="304.39" y="157.28" width="1.3" height="0.8"/>
<rect x="313.94" y="159.93" width="1.3" height="0.8"/>
<rect x="298.11" y="176.83" width="1.3" height="0.8"/>
<rect x="306.92" y="157.36" width="1.3" height="0.8"/>
<rect x="290.10" y="151.01" width="1.3" height="0.8"/>
<rect x="298.98" y="173.04" width="1.3" height="0.8"/>
<rect x="304.45" y="152.99" width="1.3" height="0.8"/>
<rect x="301.98" y="166.59" width="1.3" height="0.8"/>
<rect x="308.11" y="151.75" width="1.3" height="0.8"/>
<rect x="308.57" y="169.58" width="1.3" height="0.8"/>
<rect x="297.80" y="171.57" width="1.3" height="0.8"/>
<rect x="306.07" y="173.47" width="1.3" height="0.8"/>
<rect x="300.96" y="165.01" width="1.3" height="0.8"/>
<rect x="303.85" y="169.93" width="1.3" height="0.8"/>
<rect x="306.93" y="165.09" width="1.3" height="0.8"/>
<rect x="299.31" y="155.64" width="1.3" height="0.8"/>
<rect x="302.22" y="173.16" width="1.3" height="0.8"/>
<rect x="299.81" y="171.81" width="1.3" height="0.8"/>
<rect x="303.22" y="164.97" width="1.3" height="0.8"/>
<rect x="313.50" y="153.82" width="1.3" height="0.8"/>
<rect x="293.84" y="152.55" width="1.3" height="0.8"/>
<rect x="304.03" y="169.41" width="1.3" height="0.8"/>
<rect x="297.01" y="160.32" width="1.3" height="0.8"/>
<rect x="298.82" y="153.90" width="1.3" height="0.8"/>
<rect x="308.94" y="153.32" width="1.3" height="0.8"/>
<rect x="294.75" y="151.74" width="1.3" height="0.8"/>
<rect x="297.58" y="162.36" width="1.3" height="0.8"/>
<rect x="304.26" y="178.01" width="1.3" height="0.8"/>
<rect x="307.63" y="163.17" width="1.3" height="0.8"/>
<rect x="301.71" y="162.86" width="1.3" height="0.8"/>
<rect x="313.19" y="160.48" width="1.3" height="0.8"/>
<rect x="307.47" y="153.63" width="1.3" height="0.8"/>
<rect x="303.81" y="154.95" width="1.3" height="0.8"/>
<rect x="310.55" y="168.17" width="1.3" height="0.8"/>
<rect x="287.09" y="146.71" width="1.3" height="0.8"/>
<rect x="310.75" y="156.99" width="1.3" height="0.8"/>
<rect x="314.73" y="150.78" width="1.3" height="0.8"/>
<rect x="293.87" y="168.27" width="1.3" height="0.8"/>
<rect x="299.36" y="161.01" width="1.3" height="0.8"/>
<rect x="311.76" y="170.14" width="1.3" height="0.8"/>
<rect x="302.88" y="157.79" width="1.3" height="0.8"/>
<rect x="294.03" y="169.10" width="1.3" height="0.8"/>
<rect x="303.62" y="171.38" width="1.3" height="0.8"/>
<rect x="300.16" y="176.42" width="1.3" height="0.8"/>
<rect x="306.02" y="170.01" width="1.3" height="0.8"/>
<rect x="311.76" y="153.14" width="1.3" height="0.8"/>
<rect x="293.22" y="149.98" width="1.3" height="0.8"/>
<rect x="300.27" y="155.61" width="1.3" height="0.8"/>
<rect x="298.57" y="157.03" width="1.3" height="0.8"/>
<rect x="308.73" y="153.45" width="1.3" height="0.8"/>
<rect x="301.66" y="153.36" width="1.3" height="0.8"/>
<rect x="306.74" y="174.51" width="1.3" height="0.8"/>
<rect x="311.81" y="149.94" width="1.3" height="0.8"/>
<rect x="299.73" y="175.61" width="1.3" height="0.8"/>
<rect x="307.64" y="160.15" width="1.3" height="0.8"/>
<rect x="295.98" y="161.42" width="1.3" height="0.8"/>
<rect x="300.01" y="156.46" width="1.3" height="0.8"/>
<rect x="312.33" y="157.85" width="1.3" height="0.8"/>
<rect x="310.75" y="155.42" width="1.3" height="0.8"/>
<rect x="299.29" y="157.95" width="1.3" height="0.8"/>
<rect x="305.73" y="155.14" width="1.3" height="0.8"/>
<rect x="296.78" y="172.25" width="1.3" height="0.8"/>
<rect x="316.34" y="147.71" width="1.3" height="0.8"/>
<rect x="310.30" y="152.95" width="1.3" height="0.8"/>
<rect x="297.18" y="156.82" width="1.3" height="0.8"/>
<rect x="304.43" y="178.67" width="1.3" height="0.8"/>
<rect x="317.57" y="145.16" width="1.3" height="0.8"/>
<rect x="299.11" y="155.75" width="1.3" height="0.8"/>
<rect x="301.74" y="177.16" width="1.3" height="0.8"/>
<rect x="314.46" y="150.84" width="1.3" height="0.8"/>
<rect x="302.81" y="173.14" width="1.3" height="0.8"/>
<rect x="298.38" y="161.07" width="1.3" height="0.8"/>
<rect x="306.49" y="164.30" width="1.3" height="0.8"/>
<rect x="305.24" y="171.04" width="1.3" height="0.8"/>
<rect x="301.51" y="153.90" width="1.3" height="0.8"/>
<rect x="310.26" y="159.78" width="1.3" height="0.8"/>
<rect x="301.88" y="167.01" width="1.3" height="0.8"/>
<rect x="299.39" y="163.76" width="1.3" height="0.8"/>
<rect x="303.27" y="170.28" width="1.3" height="0.8"/>
<rect x="293.71" y="151.31" width="1.3" height="0.8"/>
<rect x="304.77" y="172.35" width="1.3" height="0.8"/>
<rect x="307.62" y="152.76" width="1.3" height="0.8"/>
<rect x="308.90" y="170.06" width="1.3" height="0.8"/>
<rect x="302.12" y="173.59" width="1.3" height="0.8"/>
<rect x="299.90" y="160.32" width="1.3" height="0.8"/>
<rect x="302.02" y="163.88" width="1.3" height="0.8"/>
<rect x="295.06" y="152.89" width="1.3" height="0.8"/>
<rect x="299.87" y="172.12" width="1.3" height="0.8"/>
<rect x="298.06" y="160.98" width="1.3" height="0.8"/>
<rect x="302.57" y="174.12" width="1.3" height="0.8"/>
<rect x="309.94" y="159.73" width="1.3" height="0.8"/>
<rect x="294.51" y="150.82" width="1.3" height="0.8"/>
<rect x="307.15" y="155.78" width="1.3" height="0.8"/>
<rect x="306.55" y="171.75" width="1.3" height="0.8"/>
<rect x="305.47" y="168.54" width="1.3" height="0.8"/>
<rect x="302.97" y="166.26" width="1.3" height="0.8"/>
<rect x="295.43" y="164.46" width="1.3" height="0.8"/>
<rect x="313.18" y="159.92" width="1.3" height="0.8"/>
<rect x="305.80" y="162.94" width="1.3" height="0.8"/>
<rect x="297.20" y="154.46" width="1.3" height="0.8"/>
<rect x="299.58" y="165.71" width="1.3" height="0.8"/>
<rect x="304.94" y="164.76" width="1.3" height="0.8"/>
<rect x="302.46" y="172.43" width="1.3" height="0.8"/>
<rect x="308.60" y="159.12" width="1.3" height="0.8"/>
<rect x="306.86" y="159.38" width="1.3" height="0.8"/>
<rect x="313.21" y="151.90" width="1.3" height="0.8"/>
<rect x="302.91" y="162.46" width="1.3" height="0.8"/>
<rect x="314.39" y="159.13" width="1.3" height="0.8"/>
<rect x="307.64" y="152.37" width="1.3" height="0.8"/>
<rect x="287.41" y="145.07" width="1.3" height="0.8"/>
<rect x="294.30" y="156.40" width="1.3" height="0.8"/>
<rect x="300.10" y="161.42" width="1.3" height="0.8"/>
<rect x="301.20" y="155.33" width="1.3" height="0.8"/>
<rect x="313.77" y="161.40" width="1.3" height="0.8"/>
<rect x="294.50" y="167.04" width="1.3" height="0.8"/>
<rect x="303.86" y="167.10" width="1.3" height="0.8"/>
<rect x="301.57" y="159.12" width="1.3" height="0.8"/>
<rect x="288.08" y="147.48" width="1.3" height="0.8"/>
<rect x="302.52" y="162.66" width="1.3" height="0.8"/>
<rect x="307.73" y="157.63" width="1.3" height="0.8"/>
<rect x="300.54" y="165.45" width="1.3" height="0.8"/>
<rect x="310.18" y="154.51" width="1.3" height="0.8"/>
<rect x="294.58" y="152.72" width="1.3" height="0.8"/>
<rect x="305.04" y="158.56" width="1.3" height="0.8"/>
<rect x="298.02" y="157.36" width="1.3" height="0.8"/>
<rect x="309.62" y="169.12" width="1.3" height="0.8"/>
<rect x="295.94" y="163.60" width="1.3" height="0.8"/>
<rect x="305.69" y="163.23" width="1.3" height="0.8"/>
<rect x="293.87" y="157.05" width="1.3" height="0.8"/>
<rect x="300.73" y="157.38" width="1.3" height="0.8"/>
<rect x="296.08" y="162.76" width="1.3" height="0.8"/>
<rect x="308.69" y="170.60" width="1.3" height="0.8"/>
<rect x="303.16" y="164.18" width="1.3" height="0.8"/>
<rect x="298.31" y="160.38" width="1.3" height="0.8"/>
<rect x="303.09" y="153.78" width="1.3" height="0.8"/>
<rect x="307.46" y="153.42" width="1.3" height="0.8"/>
<rect x="297.14" y="168.46" width="1.3" height="0.8"/>
<rect x="306.20" y="176.31" width="1.3" height="0.8"/>
<rect x="302.28" y="158.89" width="1.3" height="0.8"/>
<rect x="296.61" y="165.15" width="1.3" height="0.8"/>
<rect x="309.75" y="159.14" width="1.3" height="0.8"/>
<rect x="301.78" y="169.49" width="1.3" height="0.8"/>
<rect x="291.12" y="157.17" width="1.3" height="0.8"/>
<rect x="305.51" y="173.38" width="1.3" height="0.8"/>
<rect x="313.79" y="155.37" width="1.3" height="0.8"/>
<rect x="293.28" y="155.63" width="1.3" height="0.8"/>
<rect x="305.37" y="164.35" width="1.3" height="0.8"/>
<rect x="297.28" y="161.65" width="1.3" height="0.8"/>
<rect x="301.62" y="159.95" width="1.3" height="0.8"/>
<rect x="296.44" y="157.02" width="1.3" height="0.8"/>
<rect x="305.52" y="161.53" width="1.3" height="0.8"/>
<rect x="298.60" y="158.46" width="1.3" height="0.8"/>
<rect x="307.85" y="164.83" width="1.3" height="0.8"/>
<rect x="315.18" y="150.39" width="1.3" height="0.8"/>
<rect x="309.52" y="170.78" width="1.3" height="0.8"/>
<rect x="304.52" y="176.09" width="1.3" height="0.8"/>
<rect x="304.60" y="164.98" width="1.3" height="0.8"/>
<rect x="287.71" y="147.49" width="1.3" height="0.8"/>
<rect x="294.17" y="158.10" width="1.3" height="0.8"/>
<rect x="299.95" y="158.94" width="1.3" height="0.8"/>
<rect x="297.47" y="173.93" width="1.3" height="0.8"/>
<rect x="298.96" y="153.77" width="1.3" height="0.8"/>
<rect x="297.84" y="164.60" width="1.3" height="0.8"/>
<rect x="290.41" y="158.42" width="1.3" height="0.8"/>
<rect x="295.47" y="163.08" width="1.3" height="0.8"/>
<rect x="308.60" y="161.93" width="1.3" height="0.8"/>
<rect x="304.17" y="158.42" width="1.3" height="0.8"/>
<rect x="314.78" y="152.08" width="1.3" height="0.8"/>
<rect x="313.31" y="159.24" width="1.3" height="0.8"/>
<rect x="311.16" y="164.91" width="1.3" height="0.8"/>
<rect x="299.17" y="158.30" width="1.3" height="0.8"/>
<rect x="294.75" y="153.19" width="1.3" height="0.8"/>
<rect x="306.39" y="166.50" width="1.3" height="0.8"/>
<rect x="289.85" y="154.84" width="1.3" height="0.8"/>
<rect x="309.11" y="168.14" width="1.3" height="0.8"/>
<rect x="299.02" y="154.76" width="1.3" height="0.8"/>
<rect x="298.29" y="166.30" width="1.3" height="0.8"/>
<rect x="300.40" y="162.70" width="1.3" height="0.8"/>
<rect x="297.65" y="165.86" width="1.3" height="0.8"/>
<rect x="293.24" y="154.89" width="1.3" height="0.8"/>
<rect x="305.33" y="170.62" width="1.3" height="0.8"/>
<rect x="304.93" y="156.07" width="1.3" height="0.8"/>
<rect x="290.39" y="153.56" width="1.3" height="0.8"/>
<rect x="303.37" y="153.40" width="1.3" height="0.8"/>
<rect x="303.30" y="168.77" width="1.3" height="0.8"/>
<rect x="300.11" y="158.08" width="1.3" height="0.8"/>
<rect x="314.13" y="155.58" width="1.3" height="0.8"/>
<rect x="298.35" y="160.72" width="1.3" height="0.8"/>
<rect x="315.62" y="151.86" width="1.3" height="0.8"/>
<rect x="309.43" y="162.95" width="1.3" height="0.8"/>
<rect x="302.56" y="176.53" width="1.3" height="0.8"/>
<rect x="306.06" y="173.60" width="1.3" height="0.8"/>
<rect x="304.81" y="165.33" width="1.3" height="0.8"/>
<rect x="310.03" y="170.70" width="1.3" height="0.8"/>
<rect x="302.84" y="170.39" width="1.3" height="0.8"/>
<rect x="303.56" y="175.07" width="1.3" height="0.8"/>
<rect x="290.90" y="150.04" width="1.3" height="0.8"/>
<rect x="305.43" y="156.77" width="1.3" height="0.8"/>
<rect x="307.93" y="163.30" width="1.3" height="0.8"/>
<rect x="308.67" y="159.25" width="1.3" height="0.8"/>
<rect x="300.56" y="155.23" width="1.3" height="0.8"/>
<rect x="305.37" y="156.56" width="1.3" height="0.8"/>
<rect x="304.50" y="157.74" width="1.3" height="0.8"/>
<rect x="312.07" y="154.18" width="1.3" height="0.8"/>
<rect x="308.31" y="154.74" width="1.3" height="0.8"/>
<rect x="301.01" y="156.65" width="1.3" height="0.8"/>
<rect x="290.78" y="158.23" width="1.3" height="0.8"/>
<rect x="305.88" y="169.62" width="1.3" height="0.8"/>
<rect x="290.64" y="150.64" width="1.3" height="0.8"/>
<rect x="310.01" y="153.94" width="1.3" height="0.8"/>
<rect x="299.21" y="168.65" width="1.3" height="0.8"/>
<rect x="301.59" y="167.46" width="1.3" height="0.8"/>
<rect x="299.20" y="166.23" width="1.3" height="0.8"/>
<rect x="305.67" y="156.59" width="1.3" height="0.8"/>
</g>
<g fill="#55e855">
<rect x="248.90" y="16.70" width="1.4" height="1.2"/>
<rect x="251.20" y="25.70" width="1.4" height="1.2"/>
<rect x="252.90" y="34.20" width="1.4" height="1.2"/>
<rect x="254.10" y="38.60" width="1.4" height="1.2"/>
<rect x="256.30" y="47.00" width="1.4" height="1.2"/>
<rect x="256.80" y="49.90" width="1.4" height="1.2"/>
<rect x="261.40" y="67.60" width="1.4" height="1.2"/>
<rect x="262.00" y="70.40" width="1.4" height="1.2"/>
<rect x="262.80" y="73.90" width="1.4" height="1.2"/>
<rect x="263.70" y="77.00" width="1.4" height="1.2"/>
<rect x="264.10" y="79.40" width="1.4" height="1.2"/>
<rect x="264.80" y="82.40" width="1.4" height="1.2"/>
<rect x="265.60" y="84.90" width="1.4" height="1.2"/>
<rect x="265.80" y="87.40" width="1.4" height="1.2"/>
<rect x="266.30" y="89.70" width="1.4" height="1.2"/>
<rect x="253.50" y="36.40" width="1.4" height="1.2"/>
<rect x="256.50" y="48.40" width="1.4" height="1.2"/>
</g><g fill="#e8242c">
<rect x="353.60" y="55.20" width="1.4" height="1.2"/>
<rect x="349.20" y="68.70" width="1.4" height="1.2"/>
<rect x="348.20" y="72.40" width="1.4" height="1.2"/>
<rect x="347.50" y="75.90" width="1.4" height="1.2"/>
<rect x="346.60" y="78.40" width="1.4" height="1.2"/>
<rect x="345.80" y="80.90" width="1.4" height="1.2"/>
<rect x="344.80" y="83.90" width="1.4" height="1.2"/>
<rect x="344.30" y="85.90" width="1.4" height="1.2"/>
<rect x="343.60" y="87.90" width="1.4" height="1.2"/>
<rect x="342.90" y="89.40" width="1.4" height="1.2"/>
<rect x="347.80" y="74.20" width="1.4" height="1.2"/>
<rect x="345.30" y="82.40" width="1.4" height="1.2"/>
</g>
<text x="369.40" y="89.20" font-family="Liberation Sans" font-size="7.0" font-weight="bold" fill="#111" textLength="33.5" lengthAdjust="spacingAndGlyphs">Significant</text>
<rect x="369.70" y="93.40" width="10.6" height="10.6" fill="#f6f6f6"/>
<rect x="374.40" y="98.10" width="1.4" height="1.2" fill="#e8242c"/>
<text x="382.70" y="101.00" font-family="Liberation Sans" font-size="6.55" fill="#151515">up regulated:12</text>
<rect x="369.70" y="105.60" width="10.6" height="10.6" fill="#f6f6f6"/>
<rect x="374.40" y="110.30" width="1.4" height="1.2" fill="#55e855"/>
<text x="382.70" y="113.20" font-family="Liberation Sans" font-size="6.55" fill="#151515">down regulated:24</text>
<rect x="369.70" y="117.80" width="10.6" height="10.6" fill="#f6f6f6"/>
<rect x="374.40" y="122.50" width="1.4" height="1.2" fill="#222"/>
<text x="382.70" y="125.40" font-family="Liberation Sans" font-size="6.55" fill="#151515">unchange:1178</text>
<text x="524.90" y="7.40" font-family="Liberation Sans" font-size="7.3" font-weight="bold" text-anchor="middle" fill="#111" textLength="39.5" lengthAdjust="spacingAndGlyphs" stroke="#111" stroke-width="0.12">Volcano plot</text>
<g stroke="#9c9cea" stroke-width="0.5" stroke-dasharray="2.4,1.3"><line x1="514.27" y1="9.5" x2="514.27" y2="187.3"/><line x1="535.93" y1="9.5" x2="535.93" y2="187.3"/><line x1="466.2" y1="62.67" x2="584.1" y2="62.67"/></g>
<rect x="466.2" y="9.5" width="117.90" height="177.80" fill="none" stroke="#a0a0a0" stroke-width="1"/>
<line x1="464.0" y1="179.80" x2="466.2" y2="179.80" stroke="#a0a0a0" stroke-width="0.8"/>
<text x="463.30" y="182.10" font-family="Liberation Sans" font-size="5.1" text-anchor="end" fill="#b0b0b0">0.0</text>
<line x1="464.0" y1="134.75" x2="466.2" y2="134.75" stroke="#a0a0a0" stroke-width="0.8"/>
<text x="463.30" y="137.05" font-family="Liberation Sans" font-size="5.1" text-anchor="end" fill="#b0b0b0">0.5</text>
<line x1="464.0" y1="89.70" x2="466.2" y2="89.70" stroke="#a0a0a0" stroke-width="0.8"/>
<text x="463.30" y="92.00" font-family="Liberation Sans" font-size="5.1" text-anchor="end" fill="#b0b0b0">1.0</text>
<line x1="464.0" y1="44.65" x2="466.2" y2="44.65" stroke="#a0a0a0" stroke-width="0.8"/>
<text x="463.30" y="46.95" font-family="Liberation Sans" font-size="5.1" text-anchor="end" fill="#b0b0b0">1.5</text>
<line x1="470.95" y1="187.3" x2="470.95" y2="189.5" stroke="#a0a0a0" stroke-width="0.8"/>
<text x="470.95" y="195.00" font-family="Liberation Sans" font-size="5" text-anchor="middle" fill="#b0b0b0">-5.0</text>
<line x1="498.03" y1="187.3" x2="498.03" y2="189.5" stroke="#a0a0a0" stroke-width="0.8"/>
<text x="498.03" y="195.00" font-family="Liberation Sans" font-size="5" text-anchor="middle" fill="#b0b0b0">-2.5</text>
<line x1="525.10" y1="187.3" x2="525.10" y2="189.5" stroke="#a0a0a0" stroke-width="0.8"/>
<text x="525.10" y="195.00" font-family="Liberation Sans" font-size="5" text-anchor="middle" fill="#b0b0b0">0.0</text>
<line x1="552.18" y1="187.3" x2="552.18" y2="189.5" stroke="#a0a0a0" stroke-width="0.8"/>
<text x="552.18" y="195.00" font-family="Liberation Sans" font-size="5" text-anchor="middle" fill="#b0b0b0">2.5</text>
<line x1="579.25" y1="187.3" x2="579.25" y2="189.5" stroke="#a0a0a0" stroke-width="0.8"/>
<text x="579.25" y="195.00" font-family="Liberation Sans" font-size="5" text-anchor="middle" fill="#b0b0b0">5.0</text>
<text x="526.65" y="207.20" font-family="Liberation Sans" font-size="7.4" font-weight="bold" text-anchor="middle" fill="#111" textLength="28.8" lengthAdjust="spacingAndGlyphs" stroke="#111" stroke-width="0.15">log2(FC)</text>
<text x="0" y="0" font-family="Liberation Sans" font-size="7.9" font-weight="bold" text-anchor="middle" fill="#111" stroke="#111" stroke-width="0.22" textLength="43.5" lengthAdjust="spacingAndGlyphs" transform="translate(449.40,97.7) rotate(-90)">-log10(FDR)</text>
<g fill="#1a1a1a">
<rect x="484.97" y="64.11" width="1.1" height="0.9"/>
<rect x="485.85" y="69.09" width="1.1" height="0.9"/>
<rect x="487.22" y="73.59" width="1.1" height="0.9"/>
<rect x="488.70" y="77.76" width="1.1" height="0.9"/>
<rect x="489.67" y="82.10" width="1.1" height="0.9"/>
<rect x="490.59" y="87.83" width="1.1" height="0.9"/>
<rect x="492.01" y="92.22" width="1.1" height="0.9"/>
<rect x="492.94" y="96.73" width="1.1" height="0.9"/>
<rect x="494.93" y="101.18" width="1.1" height="0.9"/>
<rect x="496.47" y="105.09" width="1.1" height="0.9"/>
<rect x="498.12" y="109.85" width="1.1" height="0.9"/>
<rect x="499.39" y="115.10" width="1.1" height="0.9"/>
<rect x="501.14" y="119.23" width="1.1" height="0.9"/>
<rect x="503.58" y="124.30" width="1.1" height="0.9"/>
<rect x="505.49" y="128.82" width="1.1" height="0.9"/>
<rect x="506.39" y="132.40" width="1.1" height="0.9"/>
<rect x="508.88" y="136.96" width="1.1" height="0.9"/>
<rect x="512.68" y="140.34" width="1.1" height="0.9"/>
<rect x="566.73" y="63.27" width="1.1" height="0.9"/>
<rect x="566.14" y="66.10" width="1.1" height="0.9"/>
<rect x="565.35" y="69.64" width="1.1" height="0.9"/>
<rect x="564.05" y="72.80" width="1.1" height="0.9"/>
<rect x="562.34" y="77.23" width="1.1" height="0.9"/>
<rect x="562.22" y="80.34" width="1.1" height="0.9"/>
<rect x="560.07" y="82.74" width="1.1" height="0.9"/>
<rect x="558.93" y="86.25" width="1.1" height="0.9"/>
<rect x="557.81" y="89.79" width="1.1" height="0.9"/>
<rect x="556.13" y="92.98" width="1.1" height="0.9"/>
<rect x="555.65" y="96.09" width="1.1" height="0.9"/>
<rect x="554.62" y="99.92" width="1.1" height="0.9"/>
<rect x="553.13" y="102.77" width="1.1" height="0.9"/>
<rect x="551.56" y="106.71" width="1.1" height="0.9"/>
<rect x="550.29" y="109.10" width="1.1" height="0.9"/>
<rect x="549.82" y="113.54" width="1.1" height="0.9"/>
<rect x="547.90" y="115.86" width="1.1" height="0.9"/>
<rect x="547.54" y="120.00" width="1.1" height="0.9"/>
<rect x="545.26" y="122.84" width="1.1" height="0.9"/>
<rect x="544.12" y="126.92" width="1.1" height="0.9"/>
<rect x="542.67" y="130.26" width="1.1" height="0.9"/>
<rect x="541.83" y="132.26" width="1.1" height="0.9"/>
<rect x="540.16" y="135.86" width="1.1" height="0.9"/>
<rect x="538.65" y="139.63" width="1.1" height="0.9"/>
<rect x="536.12" y="141.55" width="1.1" height="0.9"/>
<rect x="534.47" y="144.44" width="1.1" height="0.9"/>
<rect x="505.00" y="124.51" width="1.1" height="0.9"/>
<rect x="505.04" y="127.45" width="1.1" height="0.9"/>
<rect x="505.48" y="127.81" width="1.1" height="0.9"/>
<rect x="503.60" y="131.28" width="1.1" height="0.9"/>
<rect x="506.47" y="132.60" width="1.1" height="0.9"/>
<rect x="510.14" y="132.81" width="1.1" height="0.9"/>
<rect x="510.79" y="134.35" width="1.1" height="0.9"/>
<rect x="511.98" y="140.12" width="1.1" height="0.9"/>
<rect x="511.26" y="140.78" width="1.1" height="0.9"/>
<rect x="547.30" y="126.64" width="1.1" height="0.9"/>
<rect x="543.94" y="127.14" width="1.1" height="0.9"/>
<rect x="540.29" y="130.13" width="1.1" height="0.9"/>
<rect x="540.82" y="131.79" width="1.1" height="0.9"/>
<rect x="539.09" y="133.90" width="1.1" height="0.9"/>
<rect x="539.84" y="139.02" width="1.1" height="0.9"/>
<rect x="536.26" y="139.32" width="1.1" height="0.9"/>
<rect x="535.92" y="142.40" width="1.1" height="0.9"/>
<rect x="536.03" y="143.81" width="1.1" height="0.9"/>
</g><g fill="#1a1a1a" fill-opacity="0.85">
<rect x="521.07" y="152.67" width="1.3" height="0.8"/>
<rect x="520.05" y="169.09" width="1.3" height="0.8"/>
<rect x="516.00" y="147.46" width="1.3" height="0.8"/>
<rect x="520.85" y="157.84" width="1.3" height="0.8"/>
<rect x="525.34" y="149.15" width="1.3" height="0.8"/>
<rect x="523.15" y="153.27" width="1.3" height="0.8"/>
<rect x="528.25" y="152.37" width="1.3" height="0.8"/>
<rect x="522.66" y="149.78" width="1.3" height="0.8"/>
<rect x="521.73" y="157.08" width="1.3" height="0.8"/>
<rect x="525.33" y="149.43" width="1.3" height="0.8"/>
<rect x="532.96" y="146.31" width="1.3" height="0.8"/>
<rect x="521.38" y="159.80" width="1.3" height="0.8"/>
<rect x="529.00" y="158.18" width="1.3" height="0.8"/>
<rect x="526.74" y="150.07" width="1.3" height="0.8"/>
<rect x="530.86" y="160.17" width="1.3" height="0.8"/>
<rect x="531.26" y="150.42" width="1.3" height="0.8"/>
<rect x="524.42" y="149.77" width="1.3" height="0.8"/>
<rect x="525.86" y="153.16" width="1.3" height="0.8"/>
<rect x="527.25" y="172.48" width="1.3" height="0.8"/>
<rect x="527.17" y="169.11" width="1.3" height="0.8"/>
<rect x="528.47" y="153.88" width="1.3" height="0.8"/>
<rect x="528.21" y="156.31" width="1.3" height="0.8"/>
<rect x="519.91" y="156.76" width="1.3" height="0.8"/>
<rect x="526.22" y="148.97" width="1.3" height="0.8"/>
<rect x="517.70" y="165.81" width="1.3" height="0.8"/>
<rect x="521.25" y="173.23" width="1.3" height="0.8"/>
<rect x="518.26" y="149.93" width="1.3" height="0.8"/>
<rect x="522.26" y="151.05" width="1.3" height="0.8"/>
<rect x="523.17" y="158.30" width="1.3" height="0.8"/>
<rect x="526.55" y="149.40" width="1.3" height="0.8"/>
<rect x="521.22" y="167.25" width="1.3" height="0.8"/>
<rect x="534.27" y="159.79" width="1.3" height="0.8"/>
<rect x="525.60" y="153.54" width="1.3" height="0.8"/>
<rect x="521.07" y="156.90" width="1.3" height="0.8"/>
<rect x="521.41" y="165.99" width="1.3" height="0.8"/>
<rect x="529.50" y="149.36" width="1.3" height="0.8"/>
<rect x="522.76" y="163.19" width="1.3" height="0.8"/>
<rect x="522.38" y="150.56" width="1.3" height="0.8"/>
<rect x="521.78" y="177.05" width="1.3" height="0.8"/>
<rect x="533.06" y="165.51" width="1.3" height="0.8"/>
<rect x="531.34" y="165.12" width="1.3" height="0.8"/>
<rect x="531.58" y="159.57" width="1.3" height="0.8"/>
<rect x="522.39" y="176.89" width="1.3" height="0.8"/>
<rect x="516.93" y="151.46" width="1.3" height="0.8"/>
<rect x="518.39" y="149.50" width="1.3" height="0.8"/>
<rect x="527.27" y="159.67" width="1.3" height="0.8"/>
<rect x="530.89" y="154.56" width="1.3" height="0.8"/>
<rect x="519.66" y="159.78" width="1.3" height="0.8"/>
<rect x="519.58" y="150.03" width="1.3" height="0.8"/>
<rect x="528.95" y="162.32" width="1.3" height="0.8"/>
<rect x="532.19" y="150.94" width="1.3" height="0.8"/>
<rect x="529.62" y="153.11" width="1.3" height="0.8"/>
<rect x="517.79" y="150.81" width="1.3" height="0.8"/>
<rect x="522.08" y="160.48" width="1.3" height="0.8"/>
<rect x="522.55" y="157.48" width="1.3" height="0.8"/>
<rect x="529.34" y="170.61" width="1.3" height="0.8"/>
<rect x="516.57" y="161.88" width="1.3" height="0.8"/>
<rect x="536.24" y="152.75" width="1.3" height="0.8"/>
<rect x="532.16" y="153.76" width="1.3" height="0.8"/>
<rect x="530.59" y="161.07" width="1.3" height="0.8"/>
<rect x="524.79" y="169.32" width="1.3" height="0.8"/>
<rect x="527.91" y="156.54" width="1.3" height="0.8"/>
<rect x="531.27" y="150.22" width="1.3" height="0.8"/>
<rect x="521.85" y="159.23" width="1.3" height="0.8"/>
<rect x="529.87" y="169.06" width="1.3" height="0.8"/>
<rect x="513.68" y="157.13" width="1.3" height="0.8"/>
<rect x="528.57" y="156.53" width="1.3" height="0.8"/>
<rect x="525.02" y="170.32" width="1.3" height="0.8"/>
<rect x="527.94" y="167.81" width="1.3" height="0.8"/>
<rect x="532.19" y="146.21" width="1.3" height="0.8"/>
<rect x="522.47" y="161.62" width="1.3" height="0.8"/>
<rect x="525.18" y="174.86" width="1.3" height="0.8"/>
<rect x="522.55" y="151.67" width="1.3" height="0.8"/>
<rect x="515.02" y="155.24" width="1.3" height="0.8"/>
<rect x="525.16" y="150.69" width="1.3" height="0.8"/>
<rect x="525.39" y="161.67" width="1.3" height="0.8"/>
<rect x="522.39" y="158.05" width="1.3" height="0.8"/>
<rect x="530.86" y="159.53" width="1.3" height="0.8"/>
<rect x="520.86" y="173.38" width="1.3" height="0.8"/>
<rect x="529.07" y="151.11" width="1.3" height="0.8"/>
<rect x="513.84" y="156.75" width="1.3" height="0.8"/>
<rect x="527.55" y="170.39" width="1.3" height="0.8"/>
<rect x="522.14" y="158.82" width="1.3" height="0.8"/>
<rect x="529.80" y="157.00" width="1.3" height="0.8"/>
<rect x="529.31" y="148.80" width="1.3" height="0.8"/>
<rect x="522.62" y="174.27" width="1.3" height="0.8"/>
<rect x="523.04" y="151.61" width="1.3" height="0.8"/>
<rect x="520.62" y="162.78" width="1.3" height="0.8"/>
<rect x="520.67" y="149.61" width="1.3" height="0.8"/>
<rect x="520.25" y="148.90" width="1.3" height="0.8"/>
<rect x="509.67" y="140.95" width="1.3" height="0.8"/>
<rect x="529.05" y="154.51" width="1.3" height="0.8"/>
<rect x="523.46" y="154.79" width="1.3" height="0.8"/>
<rect x="518.59" y="171.85" width="1.3" height="0.8"/>
<rect x="525.71" y="162.30" width="1.3" height="0.8"/>
<rect x="525.73" y="167.92" width="1.3" height="0.8"/>
<rect x="519.43" y="154.65" width="1.3" height="0.8"/>
<rect x="522.53" y="174.36" width="1.3" height="0.8"/>
<rect x="531.60" y="151.15" width="1.3" height="0.8"/>
<rect x="525.06" y="159.46" width="1.3" height="0.8"/>
<rect x="521.18" y="160.96" width="1.3" height="0.8"/>
<rect x="522.83" y="155.90" width="1.3" height="0.8"/>
<rect x="517.49" y="158.42" width="1.3" height="0.8"/>
<rect x="521.75" y="153.53" width="1.3" height="0.8"/>
<rect x="522.72" y="149.49" width="1.3" height="0.8"/>
<rect x="528.27" y="157.56" width="1.3" height="0.8"/>
<rect x="520.36" y="151.27" width="1.3" height="0.8"/>
<rect x="528.36" y="154.89" width="1.3" height="0.8"/>
<rect x="523.39" y="174.66" width="1.3" height="0.8"/>
<rect x="518.07" y="161.32" width="1.3" height="0.8"/>
<rect x="527.20" y="162.80" width="1.3" height="0.8"/>
<rect x="529.20" y="167.40" width="1.3" height="0.8"/>
<rect x="514.97" y="146.18" width="1.3" height="0.8"/>
<rect x="513.32" y="146.45" width="1.3" height="0.8"/>
<rect x="524.30" y="151.82" width="1.3" height="0.8"/>
<rect x="523.44" y="154.06" width="1.3" height="0.8"/>
<rect x="521.56" y="163.60" width="1.3" height="0.8"/>
<rect x="529.26" y="150.87" width="1.3" height="0.8"/>
<rect x="523.01" y="161.57" width="1.3" height="0.8"/>
<rect x="532.63" y="165.32" width="1.3" height="0.8"/>
<rect x="522.83" y="152.48" width="1.3" height="0.8"/>
<rect x="514.07" y="153.61" width="1.3" height="0.8"/>
<rect x="527.51" y="154.98" width="1.3" height="0.8"/>
<rect x="524.32" y="156.54" width="1.3" height="0.8"/>
<rect x="522.32" y="149.05" width="1.3" height="0.8"/>
<rect x="522.99" y="164.57" width="1.3" height="0.8"/>
<rect x="521.29" y="163.83" width="1.3" height="0.8"/>
<rect x="524.10" y="150.08" width="1.3" height="0.8"/>
<rect x="530.30" y="172.51" width="1.3" height="0.8"/>
<rect x="531.05" y="163.64" width="1.3" height="0.8"/>
<rect x="523.26" y="151.77" width="1.3" height="0.8"/>
<rect x="529.87" y="150.37" width="1.3" height="0.8"/>
<rect x="526.48" y="160.70" width="1.3" height="0.8"/>
<rect x="518.76" y="162.33" width="1.3" height="0.8"/>
<rect x="520.62" y="166.89" width="1.3" height="0.8"/>
<rect x="523.95" y="170.55" width="1.3" height="0.8"/>
<rect x="525.07" y="168.91" width="1.3" height="0.8"/>
<rect x="529.98" y="152.66" width="1.3" height="0.8"/>
<rect x="512.17" y="143.01" width="1.3" height="0.8"/>
<rect x="530.22" y="162.49" width="1.3" height="0.8"/>
<rect x="525.09" y="176.97" width="1.3" height="0.8"/>
<rect x="525.54" y="151.55" width="1.3" height="0.8"/>
<rect x="527.08" y="149.81" width="1.3" height="0.8"/>
<rect x="517.76" y="149.85" width="1.3" height="0.8"/>
<rect x="528.94" y="150.84" width="1.3" height="0.8"/>
<rect x="528.08" y="174.71" width="1.3" height="0.8"/>
<rect x="525.01" y="169.96" width="1.3" height="0.8"/>
<rect x="525.03" y="162.73" width="1.3" height="0.8"/>
<rect x="521.23" y="169.16" width="1.3" height="0.8"/>
<rect x="519.91" y="172.42" width="1.3" height="0.8"/>
<rect x="530.91" y="148.84" width="1.3" height="0.8"/>
<rect x="521.15" y="171.25" width="1.3" height="0.8"/>
<rect x="530.55" y="155.66" width="1.3" height="0.8"/>
<rect x="535.24" y="151.34" width="1.3" height="0.8"/>
<rect x="524.99" y="154.47" width="1.3" height="0.8"/>
<rect x="520.92" y="152.54" width="1.3" height="0.8"/>
<rect x="524.78" y="153.64" width="1.3" height="0.8"/>
<rect x="527.96" y="161.89" width="1.3" height="0.8"/>
<rect x="530.06" y="170.72" width="1.3" height="0.8"/>
<rect x="523.41" y="172.70" width="1.3" height="0.8"/>
<rect x="523.41" y="160.73" width="1.3" height="0.8"/>
<rect x="526.73" y="165.74" width="1.3" height="0.8"/>
<rect x="519.70" y="161.15" width="1.3" height="0.8"/>
<rect x="526.98" y="172.59" width="1.3" height="0.8"/>
<rect x="518.60" y="170.20" width="1.3" height="0.8"/>
<rect x="528.62" y="177.10" width="1.3" height="0.8"/>
<rect x="524.01" y="150.78" width="1.3" height="0.8"/>
<rect x="525.05" y="174.71" width="1.3" height="0.8"/>
<rect x="529.28" y="151.00" width="1.3" height="0.8"/>
<rect x="528.18" y="151.21" width="1.3" height="0.8"/>
<rect x="518.17" y="165.35" width="1.3" height="0.8"/>
<rect x="535.00" y="142.50" width="1.3" height="0.8"/>
<rect x="525.24" y="168.06" width="1.3" height="0.8"/>
<rect x="530.31" y="151.67" width="1.3" height="0.8"/>
<rect x="522.14" y="149.40" width="1.3" height="0.8"/>
<rect x="528.86" y="171.27" width="1.3" height="0.8"/>
<rect x="528.70" y="151.53" width="1.3" height="0.8"/>
<rect x="521.42" y="166.12" width="1.3" height="0.8"/>
<rect x="529.42" y="160.01" width="1.3" height="0.8"/>
<rect x="528.03" y="160.20" width="1.3" height="0.8"/>
<rect x="528.54" y="152.11" width="1.3" height="0.8"/>
<rect x="534.85" y="155.00" width="1.3" height="0.8"/>
<rect x="523.89" y="154.43" width="1.3" height="0.8"/>
<rect x="525.75" y="160.78" width="1.3" height="0.8"/>
<rect x="518.82" y="155.41" width="1.3" height="0.8"/>
<rect x="532.23" y="159.31" width="1.3" height="0.8"/>
<rect x="518.07" y="162.62" width="1.3" height="0.8"/>
<rect x="534.82" y="154.95" width="1.3" height="0.8"/>
<rect x="520.70" y="157.97" width="1.3" height="0.8"/>
<rect x="529.40" y="155.79" width="1.3" height="0.8"/>
<rect x="521.92" y="177.61" width="1.3" height="0.8"/>
<rect x="531.43" y="168.85" width="1.3" height="0.8"/>
<rect x="524.14" y="157.99" width="1.3" height="0.8"/>
<rect x="524.55" y="151.22" width="1.3" height="0.8"/>
<rect x="529.35" y="170.56" width="1.3" height="0.8"/>
<rect x="531.93" y="152.03" width="1.3" height="0.8"/>
<rect x="520.39" y="154.00" width="1.3" height="0.8"/>
<rect x="524.57" y="168.69" width="1.3" height="0.8"/>
<rect x="528.09" y="161.79" width="1.3" height="0.8"/>
<rect x="528.13" y="163.66" width="1.3" height="0.8"/>
<rect x="524.14" y="166.72" width="1.3" height="0.8"/>
<rect x="519.39" y="162.91" width="1.3" height="0.8"/>
<rect x="522.33" y="163.74" width="1.3" height="0.8"/>
<rect x="520.81" y="163.12" width="1.3" height="0.8"/>
<rect x="523.29" y="161.39" width="1.3" height="0.8"/>
<rect x="523.23" y="158.78" width="1.3" height="0.8"/>
<rect x="524.87" y="175.79" width="1.3" height="0.8"/>
<rect x="518.15" y="158.18" width="1.3" height="0.8"/>
<rect x="525.83" y="151.24" width="1.3" height="0.8"/>
<rect x="526.86" y="163.80" width="1.3" height="0.8"/>
<rect x="529.48" y="168.68" width="1.3" height="0.8"/>
<rect x="529.23" y="169.52" width="1.3" height="0.8"/>
<rect x="525.45" y="151.04" width="1.3" height="0.8"/>
<rect x="524.33" y="156.71" width="1.3" height="0.8"/>
<rect x="526.41" y="157.98" width="1.3" height="0.8"/>
<rect x="528.77" y="175.97" width="1.3" height="0.8"/>
<rect x="522.44" y="158.85" width="1.3" height="0.8"/>
<rect x="526.96" y="149.99" width="1.3" height="0.8"/>
<rect x="522.25" y="160.23" width="1.3" height="0.8"/>
<rect x="524.74" y="156.65" width="1.3" height="0.8"/>
<rect x="523.63" y="152.53" width="1.3" height="0.8"/>
<rect x="522.74" y="151.79" width="1.3" height="0.8"/>
<rect x="523.53" y="154.81" width="1.3" height="0.8"/>
<rect x="524.85" y="151.76" width="1.3" height="0.8"/>
<rect x="517.63" y="148.91" width="1.3" height="0.8"/>
<rect x="516.22" y="158.52" width="1.3" height="0.8"/>
<rect x="523.28" y="158.90" width="1.3" height="0.8"/>
<rect x="518.86" y="154.24" width="1.3" height="0.8"/>
<rect x="518.09" y="167.26" width="1.3" height="0.8"/>
<rect x="521.29" y="163.05" width="1.3" height="0.8"/>
<rect x="527.36" y="175.71" width="1.3" height="0.8"/>
<rect x="523.17" y="165.04" width="1.3" height="0.8"/>
<rect x="523.40" y="169.24" width="1.3" height="0.8"/>
<rect x="519.76" y="160.02" width="1.3" height="0.8"/>
<rect x="531.43" y="146.33" width="1.3" height="0.8"/>
<rect x="519.54" y="157.68" width="1.3" height="0.8"/>
<rect x="527.21" y="158.62" width="1.3" height="0.8"/>
<rect x="528.65" y="158.78" width="1.3" height="0.8"/>
<rect x="514.72" y="156.03" width="1.3" height="0.8"/>
<rect x="524.04" y="148.68" width="1.3" height="0.8"/>
<rect x="521.54" y="167.88" width="1.3" height="0.8"/>
<rect x="524.67" y="152.49" width="1.3" height="0.8"/>
<rect x="532.80" y="147.45" width="1.3" height="0.8"/>
<rect x="531.71" y="158.43" width="1.3" height="0.8"/>
<rect x="531.71" y="162.17" width="1.3" height="0.8"/>
<rect x="522.62" y="166.56" width="1.3" height="0.8"/>
<rect x="518.39" y="173.84" width="1.3" height="0.8"/>
<rect x="528.63" y="149.60" width="1.3" height="0.8"/>
<rect x="521.19" y="149.96" width="1.3" height="0.8"/>
<rect x="528.49" y="153.47" width="1.3" height="0.8"/>
<rect x="522.82" y="173.11" width="1.3" height="0.8"/>
<rect x="518.54" y="155.66" width="1.3" height="0.8"/>
<rect x="528.53" y="171.43" width="1.3" height="0.8"/>
<rect x="527.62" y="152.03" width="1.3" height="0.8"/>
<rect x="524.85" y="161.90" width="1.3" height="0.8"/>
<rect x="520.29" y="160.00" width="1.3" height="0.8"/>
<rect x="520.08" y="168.54" width="1.3" height="0.8"/>
<rect x="527.92" y="163.24" width="1.3" height="0.8"/>
<rect x="528.61" y="160.75" width="1.3" height="0.8"/>
<rect x="518.74" y="154.39" width="1.3" height="0.8"/>
<rect x="522.99" y="155.98" width="1.3" height="0.8"/>
<rect x="522.06" y="161.71" width="1.3" height="0.8"/>
<rect x="512.74" y="148.22" width="1.3" height="0.8"/>
<rect x="525.64" y="158.26" width="1.3" height="0.8"/>
<rect x="523.30" y="172.62" width="1.3" height="0.8"/>
<rect x="530.62" y="150.61" width="1.3" height="0.8"/>
<rect x="530.22" y="166.44" width="1.3" height="0.8"/>
<rect x="516.60" y="160.08" width="1.3" height="0.8"/>
<rect x="523.36" y="172.46" width="1.3" height="0.8"/>
<rect x="531.40" y="151.29" width="1.3" height="0.8"/>
<rect x="526.22" y="169.95" width="1.3" height="0.8"/>
<rect x="529.45" y="163.27" width="1.3" height="0.8"/>
<rect x="523.81" y="168.31" width="1.3" height="0.8"/>
<rect x="525.35" y="167.08" width="1.3" height="0.8"/>
<rect x="533.86" y="149.03" width="1.3" height="0.8"/>
<rect x="525.09" y="156.35" width="1.3" height="0.8"/>
<rect x="521.57" y="173.73" width="1.3" height="0.8"/>
<rect x="519.88" y="152.55" width="1.3" height="0.8"/>
<rect x="528.77" y="154.46" width="1.3" height="0.8"/>
<rect x="529.30" y="163.31" width="1.3" height="0.8"/>
<rect x="525.43" y="151.27" width="1.3" height="0.8"/>
<rect x="516.20" y="153.54" width="1.3" height="0.8"/>
<rect x="523.25" y="171.19" width="1.3" height="0.8"/>
<rect x="532.79" y="169.00" width="1.3" height="0.8"/>
<rect x="530.22" y="152.45" width="1.3" height="0.8"/>
<rect x="519.37" y="160.03" width="1.3" height="0.8"/>
<rect x="526.42" y="159.69" width="1.3" height="0.8"/>
<rect x="528.94" y="159.78" width="1.3" height="0.8"/>
<rect x="526.76" y="154.20" width="1.3" height="0.8"/>
<rect x="532.18" y="148.46" width="1.3" height="0.8"/>
<rect x="525.53" y="163.48" width="1.3" height="0.8"/>
<rect x="529.00" y="173.27" width="1.3" height="0.8"/>
<rect x="523.43" y="155.46" width="1.3" height="0.8"/>
<rect x="520.64" y="167.55" width="1.3" height="0.8"/>
<rect x="528.29" y="155.66" width="1.3" height="0.8"/>
<rect x="530.35" y="149.38" width="1.3" height="0.8"/>
<rect x="515.71" y="155.93" width="1.3" height="0.8"/>
<rect x="523.03" y="160.89" width="1.3" height="0.8"/>
<rect x="530.47" y="150.09" width="1.3" height="0.8"/>
<rect x="520.09" y="155.85" width="1.3" height="0.8"/>
<rect x="522.74" y="151.31" width="1.3" height="0.8"/>
<rect x="528.69" y="169.98" width="1.3" height="0.8"/>
<rect x="528.49" y="150.50" width="1.3" height="0.8"/>
<rect x="533.18" y="147.51" width="1.3" height="0.8"/>
<rect x="517.94" y="148.94" width="1.3" height="0.8"/>
<rect x="521.32" y="161.20" width="1.3" height="0.8"/>
<rect x="519.41" y="151.70" width="1.3" height="0.8"/>
<rect x="521.48" y="151.14" width="1.3" height="0.8"/>
<rect x="525.02" y="162.17" width="1.3" height="0.8"/>
<rect x="525.05" y="175.85" width="1.3" height="0.8"/>
<rect x="515.22" y="154.97" width="1.3" height="0.8"/>
<rect x="522.95" y="168.13" width="1.3" height="0.8"/>
<rect x="526.66" y="149.88" width="1.3" height="0.8"/>
<rect x="519.45" y="154.41" width="1.3" height="0.8"/>
<rect x="526.03" y="162.61" width="1.3" height="0.8"/>
<rect x="525.05" y="171.08" width="1.3" height="0.8"/>
<rect x="523.90" y="153.19" width="1.3" height="0.8"/>
<rect x="512.36" y="141.51" width="1.3" height="0.8"/>
<rect x="518.50" y="166.57" width="1.3" height="0.8"/>
<rect x="519.19" y="159.02" width="1.3" height="0.8"/>
<rect x="525.02" y="175.77" width="1.3" height="0.8"/>
<rect x="519.85" y="150.53" width="1.3" height="0.8"/>
<rect x="524.62" y="167.64" width="1.3" height="0.8"/>
<rect x="527.11" y="151.68" width="1.3" height="0.8"/>
<rect x="525.52" y="156.14" width="1.3" height="0.8"/>
<rect x="536.64" y="146.30" width="1.3" height="0.8"/>
<rect x="515.36" y="163.74" width="1.3" height="0.8"/>
<rect x="524.42" y="151.25" width="1.3" height="0.8"/>
<rect x="517.28" y="163.41" width="1.3" height="0.8"/>
<rect x="531.23" y="153.73" width="1.3" height="0.8"/>
<rect x="531.39" y="162.97" width="1.3" height="0.8"/>
<rect x="524.27" y="171.24" width="1.3" height="0.8"/>
<rect x="534.71" y="155.34" width="1.3" height="0.8"/>
<rect x="528.96" y="160.77" width="1.3" height="0.8"/>
<rect x="515.47" y="161.28" width="1.3" height="0.8"/>
<rect x="527.35" y="175.07" width="1.3" height="0.8"/>
<rect x="512.10" y="142.70" width="1.3" height="0.8"/>
<rect x="533.28" y="148.35" width="1.3" height="0.8"/>
<rect x="526.33" y="151.82" width="1.3" height="0.8"/>
<rect x="520.68" y="159.77" width="1.3" height="0.8"/>
</g>
<g fill="#55e855">
<rect x="473.60" y="16.30" width="1.4" height="1.2"/>
<rect x="474.70" y="19.30" width="1.4" height="1.2"/>
<rect x="475.40" y="22.50" width="1.4" height="1.2"/>
<rect x="477.90" y="34.60" width="1.4" height="1.2"/>
<rect x="478.80" y="38.60" width="1.4" height="1.2"/>
<rect x="481.00" y="46.70" width="1.4" height="1.2"/>
<rect x="481.60" y="49.00" width="1.4" height="1.2"/>
<rect x="482.00" y="50.90" width="1.4" height="1.2"/>
<rect x="482.50" y="53.20" width="1.4" height="1.2"/>
<rect x="483.00" y="55.70" width="1.4" height="1.2"/>
<rect x="478.20" y="36.20" width="1.4" height="1.2"/>
<rect x="481.30" y="47.80" width="1.4" height="1.2"/>
<rect x="482.20" y="52.00" width="1.4" height="1.2"/>
</g><g fill="#e8242c">
<rect x="577.90" y="20.00" width="1.4" height="1.2"/>
<rect x="576.90" y="24.60" width="1.4" height="1.2"/>
<rect x="573.60" y="35.90" width="1.4" height="1.2"/>
<rect x="572.90" y="37.70" width="1.4" height="1.2"/>
<rect x="571.70" y="43.70" width="1.4" height="1.2"/>
<rect x="571.10" y="46.90" width="1.4" height="1.2"/>
<rect x="569.80" y="50.20" width="1.4" height="1.2"/>
<rect x="568.80" y="54.90" width="1.4" height="1.2"/>
<rect x="567.30" y="59.90" width="1.4" height="1.2"/>
<rect x="566.80" y="61.70" width="1.4" height="1.2"/>
<rect x="573.30" y="36.80" width="1.4" height="1.2"/>
<rect x="571.40" y="45.20" width="1.4" height="1.2"/>
<rect x="570.40" y="48.50" width="1.4" height="1.2"/>
<rect x="568.30" y="56.90" width="1.4" height="1.2"/>
<rect x="567.80" y="58.40" width="1.4" height="1.2"/>
</g>
<text x="591.10" y="89.20" font-family="Liberation Sans" font-size="7.0" font-weight="bold" fill="#111" textLength="33.5" lengthAdjust="spacingAndGlyphs">Significant</text>
<rect x="591.40" y="93.40" width="10.6" height="10.6" fill="#f6f6f6"/>
<rect x="596.10" y="98.10" width="1.4" height="1.2" fill="#e8242c"/>
<text x="604.40" y="101.00" font-family="Liberation Sans" font-size="6.55" fill="#151515">up regulated:15</text>
<rect x="591.40" y="105.60" width="10.6" height="10.6" fill="#f6f6f6"/>
<rect x="596.10" y="110.30" width="1.4" height="1.2" fill="#55e855"/>
<text x="604.40" y="113.20" font-family="Liberation Sans" font-size="6.55" fill="#151515">down regulated:13</text>
<rect x="591.40" y="117.80" width="10.6" height="10.6" fill="#f6f6f6"/>
<rect x="596.10" y="122.50" width="1.4" height="1.2" fill="#222"/>
<text x="604.40" y="125.40" font-family="Liberation Sans" font-size="6.55" fill="#151515">unchange:1200</text>
<text x="0" y="0" font-family="Liberation Sans" font-size="22.3" font-weight="bold" stroke="#000" stroke-width="0.35" transform="translate(2.9,16.2) scale(0.82,1)">a</text>
<text x="0" y="0" font-family="Liberation Sans" font-size="23.5" font-weight="bold" stroke="#000" stroke-width="0.35" transform="translate(23.4,235.9) scale(0.97,1)">b</text>
<text x="0" y="0" font-family="Liberation Sans" font-size="23.5" font-weight="bold" stroke="#000" stroke-width="0.35" transform="translate(306.3,235.6) scale(0.82,1)">c</text>
<g stroke="#303030" stroke-width="0.6">
<circle cx="130.9" cy="275.8" r="52.8" fill="#0000ff" fill-opacity="0.5"/>
<circle cx="199.5" cy="275.3" r="52.4" fill="#ffff00" fill-opacity="0.5"/>
<circle cx="165" cy="335.5" r="52.4" fill="#00ff00" fill-opacity="0.5"/>
</g>
<text x="53.70" y="229.90" font-family="Liberation Sans" font-size="9.8" font-weight="bold" fill="#1a1a1a" textLength="29.6" lengthAdjust="spacingAndGlyphs" stroke="#1a1a1a" stroke-width="0.2">BMP15</text>
<text x="245.20" y="230.10" font-family="Liberation Sans" font-size="9.8" font-weight="bold" fill="#1a1a1a" textLength="22.1" lengthAdjust="spacingAndGlyphs" stroke="#1a1a1a" stroke-width="0.2">GDF9</text>
<text x="136.00" y="405.00" font-family="Liberation Sans" font-size="9.8" font-weight="bold" fill="#1a1a1a" textLength="57.8" lengthAdjust="spacingAndGlyphs" stroke="#1a1a1a" stroke-width="0.2">BMP15+GDF9</text>
<text x="119.50" y="263.80" font-family="Liberation Serif" font-size="5.6" text-anchor="middle" fill="#2a2a40" stroke="#2a2a40" stroke-width="0.08">4</text>
<text x="119.50" y="268.30" font-family="Liberation Serif" font-size="4.6" text-anchor="middle" fill="#2a2a40" textLength="13.8" lengthAdjust="spacingAndGlyphs" stroke="#2a2a40" stroke-width="0.1">(7.3%)</text>
<text x="165.00" y="263.80" font-family="Liberation Serif" font-size="5.6" text-anchor="middle" fill="#2a2a40" stroke="#2a2a40" stroke-width="0.08">0</text>
<text x="165.00" y="268.30" font-family="Liberation Serif" font-size="4.6" text-anchor="middle" fill="#2a2a40" textLength="9.2" lengthAdjust="spacingAndGlyphs" stroke="#2a2a40" stroke-width="0.1">(0%)</text>
<text x="210.50" y="263.80" font-family="Liberation Serif" font-size="5.6" text-anchor="middle" fill="#2a2a40" stroke="#2a2a40" stroke-width="0.08">23</text>
<text x="210.50" y="268.30" font-family="Liberation Serif" font-size="4.6" text-anchor="middle" fill="#2a2a40" textLength="16.1" lengthAdjust="spacingAndGlyphs" stroke="#2a2a40" stroke-width="0.1">(41.8%)</text>
<text x="165.60" y="294.10" font-family="Liberation Serif" font-size="5.6" text-anchor="middle" fill="#2a2a40" stroke="#2a2a40" stroke-width="0.08">3</text>
<text x="165.60" y="298.60" font-family="Liberation Serif" font-size="4.6" text-anchor="middle" fill="#2a2a40" textLength="13.8" lengthAdjust="spacingAndGlyphs" stroke="#2a2a40" stroke-width="0.1">(5.5%)</text>
<text x="136.80" y="310.80" font-family="Liberation Serif" font-size="5.6" text-anchor="middle" fill="#2a2a40" stroke="#2a2a40" stroke-width="0.08">2</text>
<text x="136.80" y="315.30" font-family="Liberation Serif" font-size="4.6" text-anchor="middle" fill="#2a2a40" textLength="13.8" lengthAdjust="spacingAndGlyphs" stroke="#2a2a40" stroke-width="0.1">(3.6%)</text>
<text x="193.80" y="310.80" font-family="Liberation Serif" font-size="5.6" text-anchor="middle" fill="#2a2a40" stroke="#2a2a40" stroke-width="0.08">10</text>
<text x="193.80" y="315.30" font-family="Liberation Serif" font-size="4.6" text-anchor="middle" fill="#2a2a40" textLength="16.1" lengthAdjust="spacingAndGlyphs" stroke="#2a2a40" stroke-width="0.1">(18.2%)</text>
<text x="165.10" y="346.00" font-family="Liberation Serif" font-size="5.6" text-anchor="middle" fill="#2a2a40" stroke="#2a2a40" stroke-width="0.08">13</text>
<text x="165.10" y="350.50" font-family="Liberation Serif" font-size="4.6" text-anchor="middle" fill="#2a2a40" textLength="16.1" lengthAdjust="spacingAndGlyphs" stroke="#2a2a40" stroke-width="0.1">(23.6%)</text>
<g>
<rect x="330.55" y="242.10" width="15.03" height="34.93" fill="#18ff18"/>
<rect x="345.58" y="242.10" width="3.06" height="34.93" fill="rgb(131,3,1)"/>
<rect x="348.59" y="242.10" width="3.06" height="34.93" fill="rgb(175,9,3)"/>
<rect x="351.59" y="242.10" width="3.06" height="34.93" fill="rgb(218,16,6)"/>
<rect x="354.60" y="242.10" width="3.06" height="34.93" fill="rgb(255,22,8)"/>
<rect x="357.60" y="242.10" width="3.06" height="34.93" fill="rgb(218,16,6)"/>
<rect x="360.61" y="242.10" width="3.06" height="34.93" fill="rgb(255,22,8)"/>
<rect x="363.62" y="242.10" width="3.06" height="34.93" fill="rgb(228,18,6)"/>
<rect x="366.62" y="242.10" width="3.06" height="34.93" fill="rgb(131,3,1)"/>
<rect x="369.63" y="242.10" width="3.06" height="34.93" fill="rgb(255,22,8)"/>
<rect x="372.63" y="242.10" width="3.06" height="34.93" fill="rgb(255,22,8)"/>
<rect x="375.64" y="242.10" width="3.06" height="34.93" fill="rgb(255,22,8)"/>
<rect x="378.65" y="242.10" width="3.06" height="34.93" fill="rgb(228,18,6)"/>
<rect x="381.65" y="242.10" width="3.06" height="34.93" fill="rgb(218,16,6)"/>
<rect x="384.66" y="242.10" width="3.06" height="34.93" fill="rgb(218,16,6)"/>
<rect x="387.66" y="242.10" width="3.06" height="34.93" fill="rgb(228,18,6)"/>
<rect x="390.67" y="242.10" width="3.06" height="34.93" fill="rgb(228,18,6)"/>
<rect x="393.68" y="242.10" width="3.06" height="34.93" fill="rgb(243,20,7)"/>
<rect x="396.68" y="242.10" width="3.06" height="34.93" fill="rgb(243,20,7)"/>
<rect x="399.69" y="242.10" width="3.06" height="34.93" fill="rgb(243,20,7)"/>
<rect x="402.69" y="242.10" width="3.06" height="34.93" fill="rgb(218,16,6)"/>
<rect x="405.70" y="242.10" width="66.13" height="34.93" fill="#18ff18"/>
<rect x="471.83" y="242.10" width="3.06" height="34.93" fill="rgb(131,3,1)"/>
<rect x="474.84" y="242.10" width="3.06" height="34.93" fill="rgb(237,19,7)"/>
<rect x="477.84" y="242.10" width="3.06" height="34.93" fill="rgb(228,18,6)"/>
<rect x="480.85" y="242.10" width="3.06" height="34.93" fill="rgb(237,19,7)"/>
<rect x="483.86" y="242.10" width="3.06" height="34.93" fill="rgb(228,18,6)"/>
<rect x="486.86" y="242.10" width="3.06" height="34.93" fill="rgb(218,16,6)"/>
<rect x="489.87" y="242.10" width="3.06" height="34.93" fill="rgb(228,18,6)"/>
<rect x="492.87" y="242.10" width="3.06" height="34.93" fill="rgb(218,16,6)"/>
<rect x="495.88" y="242.10" width="3.06" height="34.93" fill="rgb(237,19,7)"/>
<rect x="498.89" y="242.10" width="3.06" height="34.93" fill="rgb(218,16,6)"/>
<rect x="501.89" y="242.10" width="3.06" height="34.93" fill="rgb(218,16,6)"/>
<rect x="504.90" y="242.10" width="3.06" height="34.93" fill="rgb(228,18,6)"/>
<rect x="507.90" y="242.10" width="3.06" height="34.93" fill="rgb(131,3,1)"/>
<rect x="510.91" y="242.10" width="3.06" height="34.93" fill="rgb(175,9,3)"/>
<rect x="513.92" y="242.10" width="3.06" height="34.93" fill="rgb(255,22,8)"/>
<rect x="516.92" y="242.10" width="3.06" height="34.93" fill="rgb(255,22,8)"/>
<rect x="519.93" y="242.10" width="3.06" height="34.93" fill="rgb(237,19,7)"/>
<rect x="522.93" y="242.10" width="3.06" height="34.93" fill="rgb(131,3,1)"/>
<rect x="525.94" y="242.10" width="3.06" height="34.93" fill="rgb(243,20,7)"/>
<rect x="528.95" y="242.10" width="3.06" height="34.93" fill="rgb(255,22,8)"/>
<rect x="531.95" y="242.10" width="3.06" height="34.93" fill="rgb(255,22,8)"/>
<rect x="534.96" y="242.10" width="3.06" height="34.93" fill="rgb(255,22,8)"/>
<rect x="537.96" y="242.10" width="3.06" height="34.93" fill="rgb(175,9,3)"/>
<rect x="540.97" y="242.10" width="3.06" height="34.93" fill="rgb(255,22,8)"/>
<rect x="543.98" y="242.10" width="3.06" height="34.93" fill="rgb(243,20,7)"/>
<rect x="546.98" y="242.10" width="3.06" height="34.93" fill="rgb(218,16,6)"/>
<rect x="549.99" y="242.10" width="3.06" height="34.93" fill="rgb(237,19,7)"/>
<rect x="552.99" y="242.10" width="3.06" height="34.93" fill="rgb(237,19,7)"/>
<rect x="556.00" y="242.10" width="3.06" height="34.93" fill="rgb(131,3,1)"/>
<rect x="559.01" y="242.10" width="3.06" height="34.93" fill="rgb(175,9,3)"/>
<rect x="562.01" y="242.10" width="3.06" height="34.93" fill="rgb(228,18,6)"/>
<rect x="565.02" y="242.10" width="3.06" height="34.93" fill="rgb(228,18,6)"/>
<rect x="568.02" y="242.10" width="3.06" height="34.93" fill="rgb(255,22,8)"/>
<rect x="571.03" y="242.10" width="3.06" height="34.93" fill="rgb(237,19,7)"/>
<rect x="574.04" y="242.10" width="3.06" height="34.93" fill="rgb(255,22,8)"/>
<rect x="577.04" y="242.10" width="3.06" height="34.93" fill="rgb(228,18,6)"/>
<rect x="580.05" y="242.10" width="3.06" height="34.93" fill="rgb(243,20,7)"/>
<rect x="583.05" y="242.10" width="3.06" height="34.93" fill="rgb(255,22,8)"/>
<rect x="586.06" y="242.10" width="3.06" height="34.93" fill="rgb(237,19,7)"/>
<rect x="330.55" y="277.03" width="96.19" height="34.93" fill="#18ff18"/>
<rect x="426.74" y="277.03" width="3.06" height="34.93" fill="rgb(131,3,1)"/>
<rect x="429.75" y="277.03" width="3.06" height="34.93" fill="rgb(175,9,3)"/>
<rect x="432.75" y="277.03" width="3.06" height="34.93" fill="rgb(228,18,6)"/>
<rect x="435.76" y="277.03" width="3.06" height="34.93" fill="rgb(218,16,6)"/>
<rect x="438.77" y="277.03" width="3.06" height="34.93" fill="rgb(228,18,6)"/>
<rect x="441.77" y="277.03" width="3.06" height="34.93" fill="rgb(228,18,6)"/>
<rect x="444.78" y="277.03" width="3.06" height="34.93" fill="rgb(228,18,6)"/>
<rect x="447.78" y="277.03" width="3.06" height="34.93" fill="rgb(255,22,8)"/>
<rect x="450.79" y="277.03" width="3.06" height="34.93" fill="rgb(255,22,8)"/>
<rect x="453.80" y="277.03" width="3.06" height="34.93" fill="rgb(175,9,3)"/>
<rect x="456.80" y="277.03" width="3.06" height="34.93" fill="rgb(237,19,7)"/>
<rect x="459.81" y="277.03" width="3.06" height="34.93" fill="rgb(255,22,8)"/>
<rect x="462.81" y="277.03" width="3.06" height="34.93" fill="rgb(255,22,8)"/>
<rect x="465.82" y="277.03" width="3.06" height="34.93" fill="rgb(243,20,7)"/>
<rect x="468.83" y="277.03" width="3.06" height="34.93" fill="rgb(228,18,6)"/>
<rect x="471.83" y="277.03" width="51.10" height="34.93" fill="#18ff18"/>
<rect x="522.93" y="277.03" width="3.06" height="34.93" fill="rgb(131,3,1)"/>
<rect x="525.94" y="277.03" width="3.06" height="34.93" fill="rgb(243,20,7)"/>
<rect x="528.95" y="277.03" width="3.06" height="34.93" fill="rgb(255,22,8)"/>
<rect x="531.95" y="277.03" width="3.06" height="34.93" fill="rgb(255,22,8)"/>
<rect x="534.96" y="277.03" width="3.06" height="34.93" fill="rgb(255,22,8)"/>
<rect x="537.96" y="277.03" width="3.06" height="34.93" fill="rgb(175,9,3)"/>
<rect x="540.97" y="277.03" width="3.06" height="34.93" fill="rgb(255,22,8)"/>
<rect x="543.98" y="277.03" width="3.06" height="34.93" fill="rgb(243,20,7)"/>
<rect x="546.98" y="277.03" width="3.06" height="34.93" fill="rgb(218,16,6)"/>
<rect x="549.99" y="277.03" width="3.06" height="34.93" fill="rgb(237,19,7)"/>
<rect x="552.99" y="277.03" width="3.06" height="34.93" fill="rgb(237,19,7)"/>
<rect x="556.00" y="277.03" width="3.06" height="34.93" fill="rgb(131,3,1)"/>
<rect x="559.01" y="277.03" width="3.06" height="34.93" fill="rgb(175,9,3)"/>
<rect x="562.01" y="277.03" width="3.06" height="34.93" fill="rgb(228,18,6)"/>
<rect x="565.02" y="277.03" width="3.06" height="34.93" fill="rgb(228,18,6)"/>
<rect x="568.02" y="277.03" width="3.06" height="34.93" fill="rgb(255,22,8)"/>
<rect x="571.03" y="277.03" width="3.06" height="34.93" fill="rgb(237,19,7)"/>
<rect x="574.04" y="277.03" width="3.06" height="34.93" fill="rgb(255,22,8)"/>
<rect x="577.04" y="277.03" width="3.06" height="34.93" fill="rgb(228,18,6)"/>
<rect x="580.05" y="277.03" width="3.06" height="34.93" fill="rgb(243,20,7)"/>
<rect x="583.05" y="277.03" width="3.06" height="34.93" fill="rgb(255,22,8)"/>
<rect x="586.06" y="277.03" width="3.06" height="34.93" fill="rgb(237,19,7)"/>
<rect x="330.55" y="311.96" width="36.07" height="34.93" fill="#18ff18"/>
<rect x="366.62" y="311.96" width="3.06" height="34.93" fill="rgb(240,19,7)"/>
<rect x="369.63" y="311.96" width="3.06" height="34.93" fill="rgb(255,22,8)"/>
<rect x="372.63" y="311.96" width="3.06" height="34.93" fill="rgb(255,22,8)"/>
<rect x="375.64" y="311.96" width="3.06" height="34.93" fill="rgb(255,22,8)"/>
<rect x="378.65" y="311.96" width="3.06" height="34.93" fill="rgb(228,18,6)"/>
<rect x="381.65" y="311.96" width="3.06" height="34.93" fill="rgb(218,16,6)"/>
<rect x="384.66" y="311.96" width="3.06" height="34.93" fill="rgb(218,16,6)"/>
<rect x="387.66" y="311.96" width="3.06" height="34.93" fill="rgb(228,18,6)"/>
<rect x="390.67" y="311.96" width="3.06" height="34.93" fill="rgb(228,18,6)"/>
<rect x="393.68" y="311.96" width="3.06" height="34.93" fill="rgb(243,20,7)"/>
<rect x="396.68" y="311.96" width="3.06" height="34.93" fill="rgb(243,20,7)"/>
<rect x="399.69" y="311.96" width="3.06" height="34.93" fill="rgb(243,20,7)"/>
<rect x="402.69" y="311.96" width="3.06" height="34.93" fill="rgb(218,16,6)"/>
<rect x="405.70" y="311.96" width="3.06" height="34.93" fill="rgb(228,18,6)"/>
<rect x="408.71" y="311.96" width="3.06" height="34.93" fill="rgb(255,22,8)"/>
<rect x="411.71" y="311.96" width="3.06" height="34.93" fill="rgb(255,22,8)"/>
<rect x="414.72" y="311.96" width="3.06" height="34.93" fill="rgb(243,20,7)"/>
<rect x="417.72" y="311.96" width="3.06" height="34.93" fill="rgb(218,16,6)"/>
<rect x="420.73" y="311.96" width="3.06" height="34.93" fill="rgb(131,3,1)"/>
<rect x="423.74" y="311.96" width="3.06" height="34.93" fill="rgb(175,9,3)"/>
<rect x="426.74" y="311.96" width="3.06" height="34.93" fill="rgb(131,3,1)"/>
<rect x="429.75" y="311.96" width="24.05" height="34.93" fill="#18ff18"/>
<rect x="453.80" y="311.96" width="3.06" height="34.93" fill="rgb(175,9,3)"/>
<rect x="456.80" y="311.96" width="3.06" height="34.93" fill="rgb(237,19,7)"/>
<rect x="459.81" y="311.96" width="3.06" height="34.93" fill="rgb(255,22,8)"/>
<rect x="462.81" y="311.96" width="3.06" height="34.93" fill="rgb(255,22,8)"/>
<rect x="465.82" y="311.96" width="3.06" height="34.93" fill="rgb(243,20,7)"/>
<rect x="468.83" y="311.96" width="3.06" height="34.93" fill="rgb(228,18,6)"/>
<rect x="471.83" y="311.96" width="36.07" height="34.93" fill="#18ff18"/>
<rect x="507.90" y="311.96" width="3.06" height="34.93" fill="rgb(131,3,1)"/>
<rect x="510.91" y="311.96" width="3.06" height="34.93" fill="rgb(175,9,3)"/>
<rect x="513.92" y="311.96" width="3.06" height="34.93" fill="rgb(204,14,5)"/>
<rect x="516.92" y="311.96" width="3.06" height="34.93" fill="rgb(218,16,6)"/>
<rect x="519.93" y="311.96" width="3.06" height="34.93" fill="rgb(226,17,6)"/>
<rect x="522.93" y="311.96" width="3.06" height="34.93" fill="rgb(131,3,1)"/>
<rect x="525.94" y="311.96" width="3.06" height="34.93" fill="rgb(189,12,4)"/>
<rect x="528.95" y="311.96" width="3.06" height="34.93" fill="rgb(255,22,8)"/>
<rect x="531.95" y="311.96" width="3.06" height="34.93" fill="rgb(255,22,8)"/>
<rect x="534.96" y="311.96" width="3.06" height="34.93" fill="rgb(255,22,8)"/>
<rect x="537.96" y="311.96" width="51.10" height="34.93" fill="#18ff18"/>
<rect x="330.55" y="346.89" width="3.06" height="34.93" fill="rgb(243,20,7)"/>
<rect x="333.56" y="346.89" width="3.06" height="34.93" fill="rgb(218,16,6)"/>
<rect x="336.56" y="346.89" width="3.06" height="34.93" fill="rgb(218,16,6)"/>
<rect x="339.57" y="346.89" width="3.06" height="34.93" fill="rgb(243,20,7)"/>
<rect x="342.57" y="346.89" width="3.06" height="34.93" fill="rgb(237,19,7)"/>
<rect x="345.58" y="346.89" width="3.06" height="34.93" fill="rgb(131,3,1)"/>
<rect x="348.59" y="346.89" width="3.06" height="34.93" fill="rgb(175,9,3)"/>
<rect x="351.59" y="346.89" width="3.06" height="34.93" fill="rgb(218,16,6)"/>
<rect x="354.60" y="346.89" width="3.06" height="34.93" fill="rgb(255,22,8)"/>
<rect x="357.60" y="346.89" width="3.06" height="34.93" fill="rgb(218,16,6)"/>
<rect x="360.61" y="346.89" width="3.06" height="34.93" fill="rgb(255,22,8)"/>
<rect x="363.62" y="346.89" width="3.06" height="34.93" fill="rgb(228,18,6)"/>
<rect x="366.62" y="346.89" width="3.06" height="34.93" fill="rgb(131,3,1)"/>
<rect x="369.63" y="346.89" width="3.06" height="34.93" fill="rgb(255,22,8)"/>
<rect x="372.63" y="346.89" width="3.06" height="34.93" fill="rgb(255,22,8)"/>
<rect x="375.64" y="346.89" width="3.06" height="34.93" fill="rgb(255,22,8)"/>
<rect x="378.65" y="346.89" width="3.06" height="34.93" fill="rgb(228,18,6)"/>
<rect x="381.65" y="346.89" width="3.06" height="34.93" fill="rgb(218,16,6)"/>
<rect x="384.66" y="346.89" width="3.06" height="34.93" fill="rgb(218,16,6)"/>
<rect x="387.66" y="346.89" width="3.06" height="34.93" fill="rgb(228,18,6)"/>
<rect x="390.67" y="346.89" width="3.06" height="34.93" fill="rgb(228,18,6)"/>
<rect x="393.68" y="346.89" width="3.06" height="34.93" fill="rgb(243,20,7)"/>
<rect x="396.68" y="346.89" width="3.06" height="34.93" fill="rgb(243,20,7)"/>
<rect x="399.69" y="346.89" width="3.06" height="34.93" fill="rgb(243,20,7)"/>
<rect x="402.69" y="346.89" width="3.06" height="34.93" fill="rgb(218,16,6)"/>
<rect x="405.70" y="346.89" width="6.01" height="34.93" fill="#18ff18"/>
<rect x="411.71" y="346.89" width="3.06" height="34.93" fill="rgb(255,22,8)"/>
<rect x="414.72" y="346.89" width="3.06" height="34.93" fill="rgb(243,20,7)"/>
<rect x="417.72" y="346.89" width="3.06" height="34.93" fill="rgb(218,16,6)"/>
<rect x="420.73" y="346.89" width="3.06" height="34.93" fill="rgb(131,3,1)"/>
<rect x="423.74" y="346.89" width="3.06" height="34.93" fill="rgb(175,9,3)"/>
<rect x="426.74" y="346.89" width="21.04" height="34.93" fill="#18ff18"/>
<rect x="447.78" y="346.89" width="3.06" height="34.93" fill="rgb(255,22,8)"/>
<rect x="450.79" y="346.89" width="3.06" height="34.93" fill="rgb(255,22,8)"/>
<rect x="453.80" y="346.89" width="3.06" height="34.93" fill="rgb(175,9,3)"/>
<rect x="456.80" y="346.89" width="3.06" height="34.93" fill="rgb(237,19,7)"/>
<rect x="459.81" y="346.89" width="3.06" height="34.93" fill="rgb(255,22,8)"/>
<rect x="462.81" y="346.89" width="3.06" height="34.93" fill="rgb(255,22,8)"/>
<rect x="465.82" y="346.89" width="3.06" height="34.93" fill="rgb(243,20,7)"/>
<rect x="468.83" y="346.89" width="3.06" height="34.93" fill="rgb(228,18,6)"/>
<rect x="471.83" y="346.89" width="84.17" height="34.93" fill="#18ff18"/>
<rect x="556.00" y="346.89" width="3.06" height="34.93" fill="rgb(131,3,1)"/>
<rect x="559.01" y="346.89" width="3.06" height="34.93" fill="rgb(182,11,4)"/>
<rect x="562.01" y="346.89" width="3.06" height="34.93" fill="rgb(211,15,5)"/>
<rect x="565.02" y="346.89" width="3.06" height="34.93" fill="rgb(228,18,6)"/>
<rect x="568.02" y="346.89" width="3.06" height="34.93" fill="rgb(255,22,8)"/>
<rect x="571.03" y="346.89" width="3.06" height="34.93" fill="rgb(237,19,7)"/>
<rect x="574.04" y="346.89" width="3.06" height="34.93" fill="rgb(255,22,8)"/>
<rect x="577.04" y="346.89" width="3.06" height="34.93" fill="rgb(228,18,6)"/>
<rect x="580.05" y="346.89" width="3.06" height="34.93" fill="rgb(243,20,7)"/>
<rect x="583.05" y="346.89" width="3.06" height="34.93" fill="rgb(255,22,8)"/>
<rect x="586.06" y="346.89" width="3.06" height="34.93" fill="rgb(237,19,7)"/>
</g>
<g stroke="#a0a0a0" stroke-width="0.5" stroke-opacity="0.65">
<line x1="333.56" y1="242.1" x2="333.56" y2="381.82"/>
<line x1="336.56" y1="242.1" x2="336.56" y2="381.82"/>
<line x1="339.57" y1="242.1" x2="339.57" y2="381.82"/>
<line x1="342.57" y1="242.1" x2="342.57" y2="381.82"/>
<line x1="345.58" y1="242.1" x2="345.58" y2="381.82"/>
<line x1="348.59" y1="242.1" x2="348.59" y2="381.82"/>
<line x1="351.59" y1="242.1" x2="351.59" y2="381.82"/>
<line x1="354.60" y1="242.1" x2="354.60" y2="381.82"/>
<line x1="357.60" y1="242.1" x2="357.60" y2="381.82"/>
<line x1="360.61" y1="242.1" x2="360.61" y2="381.82"/>
<line x1="363.62" y1="242.1" x2="363.62" y2="381.82"/>
<line x1="366.62" y1="242.1" x2="366.62" y2="381.82"/>
<line x1="369.63" y1="242.1" x2="369.63" y2="381.82"/>
<line x1="372.63" y1="242.1" x2="372.63" y2="381.82"/>
<line x1="375.64" y1="242.1" x2="375.64" y2="381.82"/>
<line x1="378.65" y1="242.1" x2="378.65" y2="381.82"/>
<line x1="381.65" y1="242.1" x2="381.65" y2="381.82"/>
<line x1="384.66" y1="242.1" x2="384.66" y2="381.82"/>
<line x1="387.66" y1="242.1" x2="387.66" y2="381.82"/>
<line x1="390.67" y1="242.1" x2="390.67" y2="381.82"/>
<line x1="393.68" y1="242.1" x2="393.68" y2="381.82"/>
<line x1="396.68" y1="242.1" x2="396.68" y2="381.82"/>
<line x1="399.69" y1="242.1" x2="399.69" y2="381.82"/>
<line x1="402.69" y1="242.1" x2="402.69" y2="381.82"/>
<line x1="405.70" y1="242.1" x2="405.70" y2="381.82"/>
<line x1="408.71" y1="242.1" x2="408.71" y2="381.82"/>
<line x1="411.71" y1="242.1" x2="411.71" y2="381.82"/>
<line x1="414.72" y1="242.1" x2="414.72" y2="381.82"/>
<line x1="417.72" y1="242.1" x2="417.72" y2="381.82"/>
<line x1="420.73" y1="242.1" x2="420.73" y2="381.82"/>
<line x1="423.74" y1="242.1" x2="423.74" y2="381.82"/>
<line x1="426.74" y1="242.1" x2="426.74" y2="381.82"/>
<line x1="429.75" y1="242.1" x2="429.75" y2="381.82"/>
<line x1="432.75" y1="242.1" x2="432.75" y2="381.82"/>
<line x1="435.76" y1="242.1" x2="435.76" y2="381.82"/>
<line x1="438.77" y1="242.1" x2="438.77" y2="381.82"/>
<line x1="441.77" y1="242.1" x2="441.77" y2="381.82"/>
<line x1="444.78" y1="242.1" x2="444.78" y2="381.82"/>
<line x1="447.78" y1="242.1" x2="447.78" y2="381.82"/>
<line x1="450.79" y1="242.1" x2="450.79" y2="381.82"/>
<line x1="453.80" y1="242.1" x2="453.80" y2="381.82"/>
<line x1="456.80" y1="242.1" x2="456.80" y2="381.82"/>
<line x1="459.81" y1="242.1" x2="459.81" y2="381.82"/>
<line x1="462.81" y1="242.1" x2="462.81" y2="381.82"/>
<line x1="465.82" y1="242.1" x2="465.82" y2="381.82"/>
<line x1="468.83" y1="242.1" x2="468.83" y2="381.82"/>
<line x1="471.83" y1="242.1" x2="471.83" y2="381.82"/>
<line x1="474.84" y1="242.1" x2="474.84" y2="381.82"/>
<line x1="477.84" y1="242.1" x2="477.84" y2="381.82"/>
<line x1="480.85" y1="242.1" x2="480.85" y2="381.82"/>
<line x1="483.86" y1="242.1" x2="483.86" y2="381.82"/>
<line x1="486.86" y1="242.1" x2="486.86" y2="381.82"/>
<line x1="489.87" y1="242.1" x2="489.87" y2="381.82"/>
<line x1="492.87" y1="242.1" x2="492.87" y2="381.82"/>
<line x1="495.88" y1="242.1" x2="495.88" y2="381.82"/>
<line x1="498.89" y1="242.1" x2="498.89" y2="381.82"/>
<line x1="501.89" y1="242.1" x2="501.89" y2="381.82"/>
<line x1="504.90" y1="242.1" x2="504.90" y2="381.82"/>
<line x1="507.90" y1="242.1" x2="507.90" y2="381.82"/>
<line x1="510.91" y1="242.1" x2="510.91" y2="381.82"/>
<line x1="513.92" y1="242.1" x2="513.92" y2="381.82"/>
<line x1="516.92" y1="242.1" x2="516.92" y2="381.82"/>
<line x1="519.93" y1="242.1" x2="519.93" y2="381.82"/>
<line x1="522.93" y1="242.1" x2="522.93" y2="381.82"/>
<line x1="525.94" y1="242.1" x2="525.94" y2="381.82"/>
<line x1="528.95" y1="242.1" x2="528.95" y2="381.82"/>
<line x1="531.95" y1="242.1" x2="531.95" y2="381.82"/>
<line x1="534.96" y1="242.1" x2="534.96" y2="381.82"/>
<line x1="537.96" y1="242.1" x2="537.96" y2="381.82"/>
<line x1="540.97" y1="242.1" x2="540.97" y2="381.82"/>
<line x1="543.98" y1="242.1" x2="543.98" y2="381.82"/>
<line x1="546.98" y1="242.1" x2="546.98" y2="381.82"/>
<line x1="549.99" y1="242.1" x2="549.99" y2="381.82"/>
<line x1="552.99" y1="242.1" x2="552.99" y2="381.82"/>
<line x1="556.00" y1="242.1" x2="556.00" y2="381.82"/>
<line x1="559.01" y1="242.1" x2="559.01" y2="381.82"/>
<line x1="562.01" y1="242.1" x2="562.01" y2="381.82"/>
<line x1="565.02" y1="242.1" x2="565.02" y2="381.82"/>
<line x1="568.02" y1="242.1" x2="568.02" y2="381.82"/>
<line x1="571.03" y1="242.1" x2="571.03" y2="381.82"/>
<line x1="574.04" y1="242.1" x2="574.04" y2="381.82"/>
<line x1="577.04" y1="242.1" x2="577.04" y2="381.82"/>
<line x1="580.05" y1="242.1" x2="580.05" y2="381.82"/>
<line x1="583.05" y1="242.1" x2="583.05" y2="381.82"/>
<line x1="586.06" y1="242.1" x2="586.06" y2="381.82"/>
<line x1="330.55" y1="277.03" x2="589.07" y2="277.03"/>
<line x1="330.55" y1="311.96" x2="589.07" y2="311.96"/>
<line x1="330.55" y1="346.89" x2="589.07" y2="346.89"/>
</g>
<text x="593.00" y="264.40" font-family="Liberation Sans" font-size="9.8" font-weight="bold" fill="#1a1a1a" textLength="55.3" lengthAdjust="spacingAndGlyphs" stroke="#1a1a1a" stroke-width="0.2">BMP15+GDF9</text>
<text x="593.00" y="298.80" font-family="Liberation Sans" font-size="9.8" font-weight="bold" fill="#1a1a1a" textLength="21.0" lengthAdjust="spacingAndGlyphs" stroke="#1a1a1a" stroke-width="0.2">GDF9</text>
<text x="593.00" y="333.40" font-family="Liberation Sans" font-size="9.8" font-weight="bold" fill="#1a1a1a" textLength="28.4" lengthAdjust="spacingAndGlyphs" stroke="#1a1a1a" stroke-width="0.2">BMP15</text>
<text x="593.00" y="367.90" font-family="Liberation Sans" font-size="9.8" font-weight="bold" fill="#1a1a1a" textLength="11.1" lengthAdjust="spacingAndGlyphs" stroke="#1a1a1a" stroke-width="0.2">NC</text>
<defs><linearGradient id="cb" x1="0" x2="1" y1="0" y2="0"><stop offset="0" stop-color="#ff1010"/><stop offset="0.49" stop-color="#000"/><stop offset="1" stop-color="#10f010"/></linearGradient></defs>
<rect x="330.1" y="235.6" width="64.2" height="4.4" fill="url(#cb)"/>
<text x="0" y="0" font-family="Liberation Sans" font-size="6" fill="#111" stroke="#111" stroke-width="0.05" transform="translate(332.30,234.0) rotate(-90)">4</text>
<text x="0" y="0" font-family="Liberation Sans" font-size="6" fill="#111" stroke="#111" stroke-width="0.05" transform="translate(345.04,234.0) rotate(-90)">2</text>
<text x="0" y="0" font-family="Liberation Sans" font-size="6" fill="#111" stroke="#111" stroke-width="0.05" transform="translate(357.78,234.0) rotate(-90)">0</text>
<text x="0" y="0" font-family="Liberation Sans" font-size="6" fill="#111" stroke="#111" stroke-width="0.05" transform="translate(370.52,234.0) rotate(-90)">−2</text>
<text x="0" y="0" font-family="Liberation Sans" font-size="6" fill="#111" stroke="#111" stroke-width="0.05" transform="translate(383.26,234.0) rotate(-90)">−4</text>
<text x="0" y="0" font-family="Liberation Sans" font-size="6" fill="#111" stroke="#111" stroke-width="0.05" transform="translate(396.00,234.0) rotate(-90)">−6</text>
<g stroke="#3a3a3a" stroke-width="0.75" fill="none">
<line x1="338.5" y1="382.3" x2="338.5" y2="392.5"/>
<line x1="352.4" y1="384.5" x2="352.4" y2="392.5"/>
<line x1="338.5" y1="392.5" x2="352.4" y2="392.5"/>
<line x1="348.5" y1="384.5" x2="355.3" y2="384.5"/>
<line x1="348.5" y1="382.3" x2="348.5" y2="384.5"/>
<line x1="355.3" y1="382.3" x2="355.3" y2="384.5"/>
<line x1="334.4" y1="382.8" x2="342.5" y2="382.8"/>
<line x1="368.5" y1="382.3" x2="368.5" y2="386.2"/>
<line x1="380.7" y1="383.5" x2="380.7" y2="386.2"/>
<line x1="368.5" y1="386.2" x2="380.7" y2="386.2"/>
<line x1="372.5" y1="383.5" x2="382.5" y2="383.5"/>
<line x1="374.5" y1="386.2" x2="374.5" y2="397.6"/>
<line x1="414.2" y1="393.2" x2="414.2" y2="397.6"/>
<line x1="374.5" y1="397.6" x2="414.2" y2="397.6"/>
<line x1="408.5" y1="382.3" x2="408.5" y2="393.2"/>
<line x1="419.5" y1="383" x2="419.5" y2="393.2"/>
<line x1="408.5" y1="393.2" x2="419.5" y2="393.2"/>
<line x1="415.5" y1="383" x2="423.6" y2="383"/>
<line x1="345.4" y1="392.5" x2="345.4" y2="400.5"/>
<line x1="394.6" y1="397.6" x2="394.6" y2="400.5"/>
<line x1="345.4" y1="400.5" x2="394.6" y2="400.5"/>
<line x1="369.6" y1="400.5" x2="369.6" y2="404.5"/>
<line x1="428.4" y1="382.3" x2="428.4" y2="391.2"/>
<line x1="434.3" y1="383" x2="434.3" y2="391.2"/>
<line x1="428.4" y1="391.2" x2="434.3" y2="391.2"/>
<line x1="430.5" y1="383" x2="438.6" y2="383"/>
<line x1="450.9" y1="382.3" x2="450.9" y2="393.2"/>
<line x1="458.4" y1="383" x2="458.4" y2="393.2"/>
<line x1="450.9" y1="393.2" x2="458.4" y2="393.2"/>
<line x1="431.1" y1="391.2" x2="431.1" y2="397.7"/>
<line x1="454.3" y1="393.2" x2="454.3" y2="397.7"/>
<line x1="431.1" y1="397.7" x2="454.3" y2="397.7"/>
<line x1="442.5" y1="397.7" x2="442.5" y2="403.5"/>
<line x1="474.1" y1="383.5" x2="487.8" y2="383.5"/>
<line x1="481.6" y1="383.5" x2="481.6" y2="392.6"/>
<line x1="514.1" y1="383.7" x2="514.1" y2="392.6"/>
<line x1="481.6" y1="392.6" x2="514.1" y2="392.6"/>
<line x1="509.7" y1="383.7" x2="517.8" y2="383.7"/>
<line x1="497.6" y1="392.6" x2="497.6" y2="400.1"/>
<line x1="525.1" y1="383.7" x2="532.5" y2="383.7"/>
<line x1="529.6" y1="383.7" x2="529.6" y2="397.6"/>
<line x1="539.1" y1="383.7" x2="548.7" y2="383.7"/>
<line x1="544.3" y1="383.7" x2="544.3" y2="393.2"/>
<line x1="557.5" y1="383.7" x2="571.5" y2="383.7"/>
<line x1="564.1" y1="383.7" x2="564.1" y2="393.2"/>
<line x1="544.3" y1="393.2" x2="564.1" y2="393.2"/>
<line x1="554.2" y1="393.2" x2="554.2" y2="397.6"/>
<line x1="529.6" y1="397.6" x2="554.2" y2="397.6"/>
<line x1="541.9" y1="397.6" x2="541.9" y2="400.1"/>
<line x1="497.6" y1="400.1" x2="541.9" y2="400.1"/>
<line x1="519.7" y1="400.1" x2="519.7" y2="403.5"/>
<line x1="442.5" y1="403.5" x2="519.7" y2="403.5"/>
<line x1="481.1" y1="403.5" x2="481.1" y2="404.6"/>
<line x1="369.6" y1="404.6" x2="481.1" y2="404.6"/>
</g>
</svg></body></html>
